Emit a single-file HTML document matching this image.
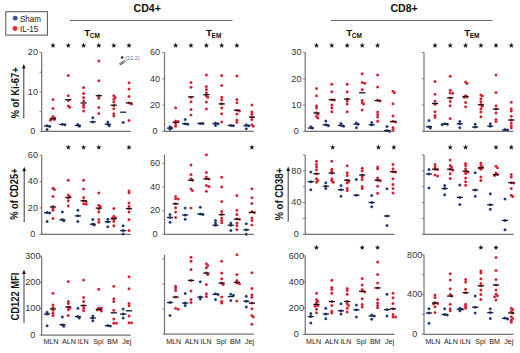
<!DOCTYPE html>
<html><head><meta charset="utf-8"><style>
html,body{margin:0;padding:0;background:#fff;}
svg{display:block;font-family:"Liberation Sans", sans-serif;}
</style></head><body>
<svg width="520" height="353" viewBox="0 0 520 353">
<defs>
<radialGradient id="gr"><stop offset="0" stop-color="#a8182a"/><stop offset="0.5" stop-color="#d41f2e"/><stop offset="1" stop-color="#ee3a46"/></radialGradient>
<radialGradient id="gb"><stop offset="0" stop-color="#13224a"/><stop offset="0.5" stop-color="#233c74"/><stop offset="1" stop-color="#3d5c9c"/></radialGradient>
</defs>
<rect width="520" height="353" fill="#fff"/>
<text x="147.2" y="12.3" font-size="10.6" text-anchor="middle" font-weight="bold" fill="#111" >CD4+</text>
<text x="404.1" y="12.3" font-size="10.6" text-anchor="middle" font-weight="bold" fill="#111" >CD8+</text>
<line x1="70" y1="20.5" x2="232.5" y2="20.5" stroke="#6a6a6a" stroke-width="1.2"/>
<line x1="331" y1="20.5" x2="492.6" y2="20.5" stroke="#6a6a6a" stroke-width="1.2"/>
<text x="84.2" y="35.5" font-size="9.9" font-weight="bold" fill="#111">T<tspan font-size="6.5" dx="-0.5" dy="2.4">CM</tspan></text>
<text x="206" y="35.5" font-size="9.9" font-weight="bold" fill="#111">T<tspan font-size="6.5" dx="-0.5" dy="2.4">EM</tspan></text>
<text x="346.2" y="35.5" font-size="9.9" font-weight="bold" fill="#111">T<tspan font-size="6.5" dx="-0.5" dy="2.4">CM</tspan></text>
<text x="464.2" y="35.5" font-size="9.9" font-weight="bold" fill="#111">T<tspan font-size="6.5" dx="-0.5" dy="2.4">EM</tspan></text>
<rect x="5.8" y="11.7" width="41.6" height="23.4" fill="none" stroke="#5a5a5a" stroke-width="1.05"/>
<circle cx="15.2" cy="18.2" r="2.4" fill="#3552a4"/>
<circle cx="15.0" cy="28.5" r="2.4" fill="#e3282e"/>
<text x="20" y="21.9" font-size="8.6" text-anchor="start" font-weight="normal" fill="#222" textLength="21" lengthAdjust="spacingAndGlyphs">Sham</text>
<text x="20" y="31.9" font-size="8.6" text-anchor="start" font-weight="normal" fill="#222" textLength="18.2" lengthAdjust="spacingAndGlyphs">IL-15</text>
<line x1="41.7" y1="52.5" x2="41.7" y2="131.4" stroke="#727272" stroke-width="1.2"/>
<line x1="41.1" y1="131.4" x2="130.8" y2="131.4" stroke="#727272" stroke-width="1.25"/>
<line x1="39.5" y1="131.4" x2="41.7" y2="131.4" stroke="#727272" stroke-width="0.9"/>
<text x="32.9" y="134.1" font-size="9.1" text-anchor="middle" font-weight="normal" fill="#333" >0</text>
<line x1="39.5" y1="111.67500000000001" x2="41.7" y2="111.67500000000001" stroke="#727272" stroke-width="0.9"/>
<line x1="39.5" y1="91.95" x2="41.7" y2="91.95" stroke="#727272" stroke-width="0.9"/>
<text x="32.9" y="94.65" font-size="9.1" text-anchor="middle" font-weight="normal" fill="#333" >10</text>
<line x1="39.5" y1="72.225" x2="41.7" y2="72.225" stroke="#727272" stroke-width="0.9"/>
<line x1="39.5" y1="52.5" x2="41.7" y2="52.5" stroke="#727272" stroke-width="0.9"/>
<text x="32.9" y="55.2" font-size="9.1" text-anchor="middle" font-weight="normal" fill="#333" >20</text>
<line x1="164.5" y1="52.5" x2="164.5" y2="131.4" stroke="#727272" stroke-width="1.2"/>
<line x1="163.9" y1="131.4" x2="253.8" y2="131.4" stroke="#727272" stroke-width="1.25"/>
<line x1="162.3" y1="131.4" x2="164.5" y2="131.4" stroke="#727272" stroke-width="0.9"/>
<text x="155.1" y="134.1" font-size="9.1" text-anchor="middle" font-weight="normal" fill="#333" >0</text>
<line x1="162.3" y1="105.10000000000001" x2="164.5" y2="105.10000000000001" stroke="#727272" stroke-width="0.9"/>
<text x="155.1" y="107.80000000000001" font-size="9.1" text-anchor="middle" font-weight="normal" fill="#333" >20</text>
<line x1="162.3" y1="78.80000000000001" x2="164.5" y2="78.80000000000001" stroke="#727272" stroke-width="0.9"/>
<text x="155.1" y="81.50000000000001" font-size="9.1" text-anchor="middle" font-weight="normal" fill="#333" >40</text>
<line x1="162.3" y1="52.5" x2="164.5" y2="52.5" stroke="#727272" stroke-width="0.9"/>
<text x="155.1" y="55.2" font-size="9.1" text-anchor="middle" font-weight="normal" fill="#333" >60</text>
<line x1="305.2" y1="52.5" x2="305.2" y2="131.4" stroke="#727272" stroke-width="1.2"/>
<line x1="304.59999999999997" y1="131.4" x2="394.6" y2="131.4" stroke="#727272" stroke-width="1.25"/>
<line x1="303.0" y1="131.4" x2="305.2" y2="131.4" stroke="#727272" stroke-width="0.9"/>
<text x="296.4" y="134.1" font-size="9.1" text-anchor="middle" font-weight="normal" fill="#333" >0</text>
<line x1="303.0" y1="105.10000000000001" x2="305.2" y2="105.10000000000001" stroke="#727272" stroke-width="0.9"/>
<text x="296.4" y="107.80000000000001" font-size="9.1" text-anchor="middle" font-weight="normal" fill="#333" >10</text>
<line x1="303.0" y1="78.80000000000001" x2="305.2" y2="78.80000000000001" stroke="#727272" stroke-width="0.9"/>
<text x="296.4" y="81.50000000000001" font-size="9.1" text-anchor="middle" font-weight="normal" fill="#333" >20</text>
<line x1="303.0" y1="52.5" x2="305.2" y2="52.5" stroke="#727272" stroke-width="0.9"/>
<text x="296.4" y="55.2" font-size="9.1" text-anchor="middle" font-weight="normal" fill="#333" >30</text>
<line x1="424.0" y1="52.5" x2="424.0" y2="131.4" stroke="#727272" stroke-width="1.2"/>
<line x1="423.4" y1="131.4" x2="513.5" y2="131.4" stroke="#727272" stroke-width="1.25"/>
<line x1="421.8" y1="131.4" x2="424.0" y2="131.4" stroke="#727272" stroke-width="0.9"/>
<line x1="421.8" y1="105.10000000000001" x2="424.0" y2="105.10000000000001" stroke="#727272" stroke-width="0.9"/>
<line x1="421.8" y1="78.80000000000001" x2="424.0" y2="78.80000000000001" stroke="#727272" stroke-width="0.9"/>
<line x1="421.8" y1="52.5" x2="424.0" y2="52.5" stroke="#727272" stroke-width="0.9"/>
<line x1="41.7" y1="155.2" x2="41.7" y2="234.3" stroke="#727272" stroke-width="1.2"/>
<line x1="41.1" y1="234.3" x2="130.8" y2="234.3" stroke="#727272" stroke-width="1.25"/>
<line x1="39.5" y1="234.3" x2="41.7" y2="234.3" stroke="#727272" stroke-width="0.9"/>
<text x="32.9" y="237.0" font-size="9.1" text-anchor="middle" font-weight="normal" fill="#333" >0</text>
<line x1="39.5" y1="207.93333333333334" x2="41.7" y2="207.93333333333334" stroke="#727272" stroke-width="0.9"/>
<text x="32.9" y="210.63333333333333" font-size="9.1" text-anchor="middle" font-weight="normal" fill="#333" >20</text>
<line x1="39.5" y1="181.56666666666666" x2="41.7" y2="181.56666666666666" stroke="#727272" stroke-width="0.9"/>
<text x="32.9" y="184.26666666666665" font-size="9.1" text-anchor="middle" font-weight="normal" fill="#333" >40</text>
<line x1="39.5" y1="155.2" x2="41.7" y2="155.2" stroke="#727272" stroke-width="0.9"/>
<text x="32.9" y="157.89999999999998" font-size="9.1" text-anchor="middle" font-weight="normal" fill="#333" >60</text>
<line x1="164.5" y1="154.5" x2="164.5" y2="234.3" stroke="#727272" stroke-width="1.2"/>
<line x1="163.9" y1="234.3" x2="253.8" y2="234.3" stroke="#727272" stroke-width="1.25"/>
<line x1="162.3" y1="234.3" x2="164.5" y2="234.3" stroke="#727272" stroke-width="0.9"/>
<text x="155.1" y="237.0" font-size="9.1" text-anchor="middle" font-weight="normal" fill="#333" >0</text>
<line x1="162.3" y1="210.66666666666669" x2="164.5" y2="210.66666666666669" stroke="#727272" stroke-width="0.9"/>
<text x="155.1" y="213.36666666666667" font-size="9.1" text-anchor="middle" font-weight="normal" fill="#333" >20</text>
<line x1="162.3" y1="187.03333333333333" x2="164.5" y2="187.03333333333333" stroke="#727272" stroke-width="0.9"/>
<text x="155.1" y="189.73333333333332" font-size="9.1" text-anchor="middle" font-weight="normal" fill="#333" >40</text>
<line x1="162.3" y1="163.4" x2="164.5" y2="163.4" stroke="#727272" stroke-width="0.9"/>
<text x="155.1" y="166.1" font-size="9.1" text-anchor="middle" font-weight="normal" fill="#333" >60</text>
<line x1="305.2" y1="155.0" x2="305.2" y2="234.3" stroke="#727272" stroke-width="1.2"/>
<line x1="304.59999999999997" y1="234.3" x2="394.6" y2="234.3" stroke="#727272" stroke-width="1.25"/>
<line x1="303.0" y1="234.3" x2="305.2" y2="234.3" stroke="#727272" stroke-width="0.9"/>
<text x="296.4" y="237.0" font-size="9.1" text-anchor="middle" font-weight="normal" fill="#333" >0</text>
<line x1="303.0" y1="218.44" x2="305.2" y2="218.44" stroke="#727272" stroke-width="0.9"/>
<line x1="303.0" y1="202.58" x2="305.2" y2="202.58" stroke="#727272" stroke-width="0.9"/>
<text x="296.4" y="205.28" font-size="9.1" text-anchor="middle" font-weight="normal" fill="#333" >40</text>
<line x1="303.0" y1="186.72" x2="305.2" y2="186.72" stroke="#727272" stroke-width="0.9"/>
<line x1="303.0" y1="170.86" x2="305.2" y2="170.86" stroke="#727272" stroke-width="0.9"/>
<text x="296.4" y="173.56" font-size="9.1" text-anchor="middle" font-weight="normal" fill="#333" >80</text>
<line x1="303.0" y1="155.0" x2="305.2" y2="155.0" stroke="#727272" stroke-width="0.9"/>
<line x1="424.0" y1="155.0" x2="424.0" y2="234.3" stroke="#727272" stroke-width="1.2"/>
<line x1="423.4" y1="234.3" x2="513.5" y2="234.3" stroke="#727272" stroke-width="1.25"/>
<line x1="421.8" y1="234.3" x2="424.0" y2="234.3" stroke="#727272" stroke-width="0.9"/>
<line x1="421.8" y1="218.44" x2="424.0" y2="218.44" stroke="#727272" stroke-width="0.9"/>
<line x1="421.8" y1="202.58" x2="424.0" y2="202.58" stroke="#727272" stroke-width="0.9"/>
<line x1="421.8" y1="186.72" x2="424.0" y2="186.72" stroke="#727272" stroke-width="0.9"/>
<line x1="421.8" y1="170.86" x2="424.0" y2="170.86" stroke="#727272" stroke-width="0.9"/>
<line x1="421.8" y1="155.0" x2="424.0" y2="155.0" stroke="#727272" stroke-width="0.9"/>
<line x1="41.7" y1="256.2" x2="41.7" y2="335.0" stroke="#727272" stroke-width="1.2"/>
<line x1="41.1" y1="335.0" x2="130.8" y2="335.0" stroke="#727272" stroke-width="1.25"/>
<line x1="39.5" y1="335.0" x2="41.7" y2="335.0" stroke="#727272" stroke-width="0.9"/>
<text x="32.9" y="337.7" font-size="9.1" text-anchor="middle" font-weight="normal" fill="#333" >0</text>
<line x1="39.5" y1="308.73333333333335" x2="41.7" y2="308.73333333333335" stroke="#727272" stroke-width="0.9"/>
<text x="32.9" y="311.43333333333334" font-size="9.1" text-anchor="middle" font-weight="normal" fill="#333" >100</text>
<line x1="39.5" y1="282.46666666666664" x2="41.7" y2="282.46666666666664" stroke="#727272" stroke-width="0.9"/>
<text x="32.9" y="285.16666666666663" font-size="9.1" text-anchor="middle" font-weight="normal" fill="#333" >200</text>
<line x1="39.5" y1="256.2" x2="41.7" y2="256.2" stroke="#727272" stroke-width="0.9"/>
<text x="32.9" y="258.9" font-size="9.1" text-anchor="middle" font-weight="normal" fill="#333" >300</text>
<line x1="164.5" y1="254.8" x2="164.5" y2="334.0" stroke="#727272" stroke-width="1.2"/>
<line x1="163.9" y1="334.0" x2="253.8" y2="334.0" stroke="#727272" stroke-width="1.25"/>
<line x1="162.3" y1="334.0" x2="164.5" y2="334.0" stroke="#727272" stroke-width="0.9"/>
<line x1="162.3" y1="308.93333333333334" x2="164.5" y2="308.93333333333334" stroke="#727272" stroke-width="0.9"/>
<line x1="162.3" y1="283.8666666666667" x2="164.5" y2="283.8666666666667" stroke="#727272" stroke-width="0.9"/>
<line x1="162.3" y1="258.8" x2="164.5" y2="258.8" stroke="#727272" stroke-width="0.9"/>
<line x1="305.2" y1="255.8" x2="305.2" y2="334.4" stroke="#727272" stroke-width="1.2"/>
<line x1="304.59999999999997" y1="334.4" x2="394.6" y2="334.4" stroke="#727272" stroke-width="1.25"/>
<line x1="303.0" y1="334.4" x2="305.2" y2="334.4" stroke="#727272" stroke-width="0.9"/>
<text x="296.4" y="337.09999999999997" font-size="9.1" text-anchor="middle" font-weight="normal" fill="#333" >0</text>
<line x1="303.0" y1="308.2" x2="305.2" y2="308.2" stroke="#727272" stroke-width="0.9"/>
<text x="296.4" y="310.9" font-size="9.1" text-anchor="middle" font-weight="normal" fill="#333" >200</text>
<line x1="303.0" y1="282.0" x2="305.2" y2="282.0" stroke="#727272" stroke-width="0.9"/>
<text x="296.4" y="284.7" font-size="9.1" text-anchor="middle" font-weight="normal" fill="#333" >400</text>
<line x1="303.0" y1="255.8" x2="305.2" y2="255.8" stroke="#727272" stroke-width="0.9"/>
<text x="296.4" y="258.5" font-size="9.1" text-anchor="middle" font-weight="normal" fill="#333" >600</text>
<line x1="424.0" y1="254.8" x2="424.0" y2="334.3" stroke="#727272" stroke-width="1.2"/>
<line x1="423.4" y1="334.3" x2="513.5" y2="334.3" stroke="#727272" stroke-width="1.25"/>
<line x1="421.8" y1="334.3" x2="424.0" y2="334.3" stroke="#727272" stroke-width="0.9"/>
<text x="414.7" y="337.0" font-size="9.1" text-anchor="middle" font-weight="normal" fill="#333" >0</text>
<line x1="421.8" y1="314.425" x2="424.0" y2="314.425" stroke="#727272" stroke-width="0.9"/>
<line x1="421.8" y1="294.55" x2="424.0" y2="294.55" stroke="#727272" stroke-width="0.9"/>
<text x="414.7" y="297.25" font-size="9.1" text-anchor="middle" font-weight="normal" fill="#333" >400</text>
<line x1="421.8" y1="274.675" x2="424.0" y2="274.675" stroke="#727272" stroke-width="0.9"/>
<line x1="421.8" y1="254.8" x2="424.0" y2="254.8" stroke="#727272" stroke-width="0.9"/>
<text x="414.7" y="257.5" font-size="9.1" text-anchor="middle" font-weight="normal" fill="#333" >800</text>
<text transform="translate(18.6,118.5) rotate(-90)" font-size="10.0" font-weight="bold" fill="#111" textLength="51.4" lengthAdjust="spacingAndGlyphs">% of Ki-67+</text>
<line x1="23.8" y1="67.5" x2="23.8" y2="118.5" stroke="#222" stroke-width="0.9"/>
<polygon points="23.8,64.0 22.0,68.5 25.6,68.5" fill="#111"/>
<text transform="translate(18.2,219.8) rotate(-90)" font-size="10.0" font-weight="bold" fill="#111" textLength="51.4" lengthAdjust="spacingAndGlyphs">% of CD25+</text>
<line x1="24.2" y1="170.3" x2="24.2" y2="222.2" stroke="#222" stroke-width="0.9"/>
<polygon points="24.2,166.8 22.4,171.3 26.0,171.3" fill="#111"/>
<text transform="translate(283.0,220.6) rotate(-90)" font-size="10.0" font-weight="bold" fill="#111" textLength="52.8" lengthAdjust="spacingAndGlyphs">% of CD38+</text>
<line x1="288.2" y1="170.0" x2="288.2" y2="221.8" stroke="#222" stroke-width="0.9"/>
<polygon points="288.2,166.5 286.4,171.0 290.0,171.0" fill="#111"/>
<text transform="translate(18.5,320.6) rotate(-90)" font-size="10.0" font-weight="bold" fill="#111" textLength="48.0" lengthAdjust="spacingAndGlyphs">CD122 MFI</text>
<line x1="24.0" y1="272.9" x2="24.0" y2="323.3" stroke="#222" stroke-width="0.9"/>
<polygon points="24.0,269.4 22.2,273.9 25.8,273.9" fill="#111"/>
<text x="50.9" y="344.3" font-size="7.1" text-anchor="middle" font-weight="normal" fill="#222" >MLN</text>
<text x="68.95" y="344.3" font-size="7.1" text-anchor="middle" font-weight="normal" fill="#222" >ALN</text>
<text x="83.2" y="344.3" font-size="7.1" text-anchor="middle" font-weight="normal" fill="#222" >ILN</text>
<text x="98.4" y="344.3" font-size="7.1" text-anchor="middle" font-weight="normal" fill="#222" >Spl</text>
<text x="112.5" y="344.3" font-size="7.1" text-anchor="middle" font-weight="normal" fill="#222" >BM</text>
<text x="126.75" y="344.3" font-size="7.1" text-anchor="middle" font-weight="normal" fill="#222" >Jej</text>
<text x="173.7" y="344.3" font-size="7.1" text-anchor="middle" font-weight="normal" fill="#222" >MLN</text>
<text x="191.75" y="344.3" font-size="7.1" text-anchor="middle" font-weight="normal" fill="#222" >ALN</text>
<text x="206.0" y="344.3" font-size="7.1" text-anchor="middle" font-weight="normal" fill="#222" >ILN</text>
<text x="221.2" y="344.3" font-size="7.1" text-anchor="middle" font-weight="normal" fill="#222" >Spl</text>
<text x="235.3" y="344.3" font-size="7.1" text-anchor="middle" font-weight="normal" fill="#222" >BM</text>
<text x="249.55" y="344.3" font-size="7.1" text-anchor="middle" font-weight="normal" fill="#222" >Jej</text>
<text x="313.6" y="344.3" font-size="7.1" text-anchor="middle" font-weight="normal" fill="#222" >MLN</text>
<text x="331.65" y="344.3" font-size="7.1" text-anchor="middle" font-weight="normal" fill="#222" >ALN</text>
<text x="345.9" y="344.3" font-size="7.1" text-anchor="middle" font-weight="normal" fill="#222" >ILN</text>
<text x="361.1" y="344.3" font-size="7.1" text-anchor="middle" font-weight="normal" fill="#222" >Spl</text>
<text x="375.2" y="344.3" font-size="7.1" text-anchor="middle" font-weight="normal" fill="#222" >BM</text>
<text x="389.45" y="344.3" font-size="7.1" text-anchor="middle" font-weight="normal" fill="#222" >Jej</text>
<text x="432.9" y="344.3" font-size="7.1" text-anchor="middle" font-weight="normal" fill="#222" >MLN</text>
<text x="450.95" y="344.3" font-size="7.1" text-anchor="middle" font-weight="normal" fill="#222" >ALN</text>
<text x="465.2" y="344.3" font-size="7.1" text-anchor="middle" font-weight="normal" fill="#222" >ILN</text>
<text x="480.4" y="344.3" font-size="7.1" text-anchor="middle" font-weight="normal" fill="#222" >Spl</text>
<text x="494.5" y="344.3" font-size="7.1" text-anchor="middle" font-weight="normal" fill="#222" >BM</text>
<text x="508.75" y="344.3" font-size="7.1" text-anchor="middle" font-weight="normal" fill="#222" >Jej</text>
<circle cx="47.10" cy="125.80" r="1.5" fill="url(#gb)"/>
<circle cx="49.70" cy="126.60" r="1.5" fill="url(#gb)"/>
<circle cx="47.10" cy="129.40" r="1.5" fill="url(#gb)"/>
<circle cx="53.00" cy="99.50" r="1.5" fill="url(#gr)"/>
<circle cx="53.00" cy="108.40" r="1.5" fill="url(#gr)"/>
<circle cx="53.00" cy="116.60" r="1.5" fill="url(#gr)"/>
<circle cx="54.40" cy="117.80" r="1.5" fill="url(#gr)"/>
<circle cx="51.60" cy="118.60" r="1.5" fill="url(#gr)"/>
<circle cx="54.40" cy="119.60" r="1.5" fill="url(#gr)"/>
<circle cx="50.40" cy="120.20" r="1.5" fill="url(#gr)"/>
<line x1="44.00" y1="126.0" x2="50.20" y2="126.0" stroke="#15204a" stroke-width="1.3"/>
<line x1="49.90" y1="118.7" x2="56.10" y2="118.7" stroke="#111" stroke-width="1.3"/>
<circle cx="62.40" cy="124.20" r="1.5" fill="url(#gb)"/>
<circle cx="65.00" cy="124.80" r="1.5" fill="url(#gb)"/>
<circle cx="68.30" cy="75.40" r="1.5" fill="url(#gr)"/>
<circle cx="68.30" cy="95.70" r="1.5" fill="url(#gr)"/>
<circle cx="68.30" cy="100.50" r="1.5" fill="url(#gr)"/>
<circle cx="68.30" cy="105.90" r="1.5" fill="url(#gr)"/>
<circle cx="69.70" cy="107.30" r="1.5" fill="url(#gr)"/>
<line x1="59.30" y1="124.5" x2="65.50" y2="124.5" stroke="#15204a" stroke-width="1.3"/>
<line x1="65.20" y1="99.7" x2="71.40" y2="99.7" stroke="#111" stroke-width="1.3"/>
<circle cx="77.90" cy="124.60" r="1.5" fill="url(#gb)"/>
<circle cx="79.30" cy="126.20" r="1.5" fill="url(#gb)"/>
<circle cx="83.60" cy="87.60" r="1.5" fill="url(#gr)"/>
<circle cx="83.60" cy="93.40" r="1.5" fill="url(#gr)"/>
<circle cx="83.60" cy="97.60" r="1.5" fill="url(#gr)"/>
<circle cx="83.60" cy="101.00" r="1.5" fill="url(#gr)"/>
<circle cx="83.60" cy="104.90" r="1.5" fill="url(#gr)"/>
<circle cx="83.60" cy="107.20" r="1.5" fill="url(#gr)"/>
<circle cx="83.60" cy="111.10" r="1.5" fill="url(#gr)"/>
<line x1="74.80" y1="125.5" x2="81.00" y2="125.5" stroke="#15204a" stroke-width="1.3"/>
<line x1="80.50" y1="103.0" x2="86.70" y2="103.0" stroke="#111" stroke-width="1.3"/>
<circle cx="92.80" cy="117.70" r="1.5" fill="url(#gb)"/>
<circle cx="92.80" cy="121.90" r="1.5" fill="url(#gb)"/>
<circle cx="98.80" cy="61.00" r="1.5" fill="url(#gr)"/>
<circle cx="98.80" cy="80.80" r="1.5" fill="url(#gr)"/>
<circle cx="98.80" cy="95.70" r="1.5" fill="url(#gr)"/>
<circle cx="98.80" cy="98.20" r="1.5" fill="url(#gr)"/>
<circle cx="98.80" cy="107.40" r="1.5" fill="url(#gr)"/>
<circle cx="98.80" cy="113.60" r="1.5" fill="url(#gr)"/>
<line x1="89.70" y1="121.9" x2="95.90" y2="121.9" stroke="#15204a" stroke-width="1.3"/>
<line x1="95.70" y1="95.7" x2="101.90" y2="95.7" stroke="#111" stroke-width="1.3"/>
<circle cx="107.80" cy="121.90" r="1.5" fill="url(#gb)"/>
<circle cx="107.80" cy="124.20" r="1.5" fill="url(#gb)"/>
<circle cx="109.20" cy="125.80" r="1.5" fill="url(#gb)"/>
<circle cx="113.80" cy="95.70" r="1.5" fill="url(#gr)"/>
<circle cx="115.20" cy="97.40" r="1.5" fill="url(#gr)"/>
<circle cx="113.80" cy="99.20" r="1.5" fill="url(#gr)"/>
<circle cx="113.80" cy="102.00" r="1.5" fill="url(#gr)"/>
<circle cx="113.80" cy="105.50" r="1.5" fill="url(#gr)"/>
<circle cx="113.80" cy="108.80" r="1.5" fill="url(#gr)"/>
<circle cx="113.80" cy="113.70" r="1.5" fill="url(#gr)"/>
<circle cx="113.80" cy="116.00" r="1.5" fill="url(#gr)"/>
<line x1="104.70" y1="124.2" x2="110.90" y2="124.2" stroke="#15204a" stroke-width="1.3"/>
<line x1="110.70" y1="105.2" x2="116.90" y2="105.2" stroke="#111" stroke-width="1.3"/>
<circle cx="123.20" cy="122.50" r="1.5" fill="url(#gb)"/>
<circle cx="129.00" cy="82.80" r="1.5" fill="url(#gr)"/>
<circle cx="129.00" cy="89.10" r="1.5" fill="url(#gr)"/>
<circle cx="129.00" cy="96.50" r="1.5" fill="url(#gr)"/>
<circle cx="129.00" cy="103.00" r="1.5" fill="url(#gr)"/>
<circle cx="131.60" cy="104.00" r="1.5" fill="url(#gr)"/>
<circle cx="129.00" cy="120.40" r="1.5" fill="url(#gr)"/>
<line x1="120.10" y1="112.2" x2="126.30" y2="112.2" stroke="#15204a" stroke-width="1.3"/>
<line x1="125.90" y1="102.9" x2="132.10" y2="102.9" stroke="#111" stroke-width="1.3"/>
<polygon points="53.00,42.70 53.68,44.57 55.66,44.63 54.09,45.86 54.65,47.77 53.00,46.65 51.35,47.77 51.91,45.86 50.34,44.63 52.32,44.57" fill="#111"/>
<polygon points="68.30,42.70 68.98,44.57 70.96,44.63 69.39,45.86 69.95,47.77 68.30,46.65 66.65,47.77 67.21,45.86 65.64,44.63 67.62,44.57" fill="#111"/>
<polygon points="83.60,42.70 84.28,44.57 86.26,44.63 84.69,45.86 85.25,47.77 83.60,46.65 81.95,47.77 82.51,45.86 80.94,44.63 82.92,44.57" fill="#111"/>
<polygon points="98.80,42.70 99.48,44.57 101.46,44.63 99.89,45.86 100.45,47.77 98.80,46.65 97.15,47.77 97.71,45.86 96.14,44.63 98.12,44.57" fill="#111"/>
<polygon points="113.80,42.70 114.48,44.57 116.46,44.63 114.89,45.86 115.45,47.77 113.80,46.65 112.15,47.77 112.71,45.86 111.14,44.63 113.12,44.57" fill="#111"/>
<polygon points="129.00,42.70 129.68,44.57 131.66,44.63 130.09,45.86 130.65,47.77 129.00,46.65 127.35,47.77 127.91,45.86 126.34,44.63 128.32,44.57" fill="#111"/>
<circle cx="170.00" cy="126.70" r="1.5" fill="url(#gb)"/>
<circle cx="171.40" cy="128.10" r="1.5" fill="url(#gb)"/>
<circle cx="170.00" cy="129.20" r="1.5" fill="url(#gb)"/>
<circle cx="175.60" cy="107.80" r="1.5" fill="url(#gr)"/>
<circle cx="175.60" cy="121.00" r="1.5" fill="url(#gr)"/>
<circle cx="178.20" cy="121.50" r="1.5" fill="url(#gr)"/>
<circle cx="175.60" cy="123.80" r="1.5" fill="url(#gr)"/>
<circle cx="175.60" cy="126.20" r="1.5" fill="url(#gr)"/>
<line x1="166.90" y1="128.1" x2="173.10" y2="128.1" stroke="#15204a" stroke-width="1.3"/>
<line x1="172.50" y1="122.3" x2="178.70" y2="122.3" stroke="#111" stroke-width="1.3"/>
<circle cx="185.20" cy="119.60" r="1.5" fill="url(#gb)"/>
<circle cx="185.20" cy="123.80" r="1.5" fill="url(#gb)"/>
<circle cx="187.80" cy="124.20" r="1.5" fill="url(#gb)"/>
<circle cx="191.00" cy="82.40" r="1.5" fill="url(#gr)"/>
<circle cx="191.00" cy="87.20" r="1.5" fill="url(#gr)"/>
<circle cx="191.00" cy="97.30" r="1.5" fill="url(#gr)"/>
<circle cx="191.00" cy="101.70" r="1.5" fill="url(#gr)"/>
<circle cx="191.00" cy="109.60" r="1.5" fill="url(#gr)"/>
<circle cx="191.00" cy="115.00" r="1.5" fill="url(#gr)"/>
<line x1="182.10" y1="123.8" x2="188.30" y2="123.8" stroke="#15204a" stroke-width="1.3"/>
<line x1="187.90" y1="96.9" x2="194.10" y2="96.9" stroke="#111" stroke-width="1.3"/>
<circle cx="200.30" cy="123.50" r="1.5" fill="url(#gb)"/>
<circle cx="202.90" cy="123.50" r="1.5" fill="url(#gb)"/>
<circle cx="206.40" cy="75.00" r="1.5" fill="url(#gr)"/>
<circle cx="206.40" cy="86.60" r="1.5" fill="url(#gr)"/>
<circle cx="206.40" cy="89.50" r="1.5" fill="url(#gr)"/>
<circle cx="206.40" cy="92.80" r="1.5" fill="url(#gr)"/>
<circle cx="206.40" cy="96.00" r="1.5" fill="url(#gr)"/>
<circle cx="207.80" cy="97.20" r="1.5" fill="url(#gr)"/>
<circle cx="206.40" cy="101.90" r="1.5" fill="url(#gr)"/>
<circle cx="206.40" cy="108.90" r="1.5" fill="url(#gr)"/>
<line x1="197.20" y1="123.5" x2="203.40" y2="123.5" stroke="#15204a" stroke-width="1.3"/>
<line x1="203.30" y1="94.7" x2="209.50" y2="94.7" stroke="#111" stroke-width="1.3"/>
<circle cx="215.50" cy="122.90" r="1.5" fill="url(#gb)"/>
<circle cx="218.10" cy="123.80" r="1.5" fill="url(#gb)"/>
<circle cx="215.50" cy="125.40" r="1.5" fill="url(#gb)"/>
<circle cx="221.70" cy="75.60" r="1.5" fill="url(#gr)"/>
<circle cx="221.70" cy="85.60" r="1.5" fill="url(#gr)"/>
<circle cx="221.70" cy="97.20" r="1.5" fill="url(#gr)"/>
<circle cx="221.70" cy="99.70" r="1.5" fill="url(#gr)"/>
<circle cx="221.70" cy="103.70" r="1.5" fill="url(#gr)"/>
<circle cx="221.70" cy="108.10" r="1.5" fill="url(#gr)"/>
<circle cx="221.70" cy="113.70" r="1.5" fill="url(#gr)"/>
<circle cx="221.70" cy="121.90" r="1.5" fill="url(#gr)"/>
<line x1="212.40" y1="123.8" x2="218.60" y2="123.8" stroke="#15204a" stroke-width="1.3"/>
<line x1="218.60" y1="103.9" x2="224.80" y2="103.9" stroke="#111" stroke-width="1.3"/>
<circle cx="230.80" cy="125.40" r="1.5" fill="url(#gb)"/>
<circle cx="233.40" cy="125.80" r="1.5" fill="url(#gb)"/>
<circle cx="236.90" cy="76.00" r="1.5" fill="url(#gr)"/>
<circle cx="236.90" cy="99.50" r="1.5" fill="url(#gr)"/>
<circle cx="236.90" cy="102.80" r="1.5" fill="url(#gr)"/>
<circle cx="236.90" cy="110.30" r="1.5" fill="url(#gr)"/>
<circle cx="239.50" cy="111.00" r="1.5" fill="url(#gr)"/>
<circle cx="236.90" cy="113.90" r="1.5" fill="url(#gr)"/>
<circle cx="236.90" cy="120.00" r="1.5" fill="url(#gr)"/>
<circle cx="236.90" cy="122.30" r="1.5" fill="url(#gr)"/>
<line x1="227.70" y1="125.4" x2="233.90" y2="125.4" stroke="#15204a" stroke-width="1.3"/>
<line x1="233.80" y1="110.3" x2="240.00" y2="110.3" stroke="#111" stroke-width="1.3"/>
<circle cx="246.30" cy="124.80" r="1.5" fill="url(#gb)"/>
<circle cx="248.90" cy="125.80" r="1.5" fill="url(#gb)"/>
<circle cx="246.30" cy="128.70" r="1.5" fill="url(#gb)"/>
<circle cx="251.90" cy="105.10" r="1.5" fill="url(#gr)"/>
<circle cx="251.90" cy="111.90" r="1.5" fill="url(#gr)"/>
<circle cx="251.90" cy="114.20" r="1.5" fill="url(#gr)"/>
<circle cx="251.90" cy="117.10" r="1.5" fill="url(#gr)"/>
<circle cx="251.90" cy="119.60" r="1.5" fill="url(#gr)"/>
<circle cx="251.90" cy="124.80" r="1.5" fill="url(#gr)"/>
<circle cx="253.30" cy="126.20" r="1.5" fill="url(#gr)"/>
<line x1="243.20" y1="125.8" x2="249.40" y2="125.8" stroke="#15204a" stroke-width="1.3"/>
<line x1="248.80" y1="117.1" x2="255.00" y2="117.1" stroke="#111" stroke-width="1.3"/>
<polygon points="175.60,42.70 176.28,44.57 178.26,44.63 176.69,45.86 177.25,47.77 175.60,46.65 173.95,47.77 174.51,45.86 172.94,44.63 174.92,44.57" fill="#111"/>
<polygon points="191.00,42.70 191.68,44.57 193.66,44.63 192.09,45.86 192.65,47.77 191.00,46.65 189.35,47.77 189.91,45.86 188.34,44.63 190.32,44.57" fill="#111"/>
<polygon points="206.40,42.70 207.08,44.57 209.06,44.63 207.49,45.86 208.05,47.77 206.40,46.65 204.75,47.77 205.31,45.86 203.74,44.63 205.72,44.57" fill="#111"/>
<polygon points="221.70,42.70 222.38,44.57 224.36,44.63 222.79,45.86 223.35,47.77 221.70,46.65 220.05,47.77 220.61,45.86 219.04,44.63 221.02,44.57" fill="#111"/>
<polygon points="236.90,42.70 237.58,44.57 239.56,44.63 237.99,45.86 238.55,47.77 236.90,46.65 235.25,47.77 235.81,45.86 234.24,44.63 236.22,44.57" fill="#111"/>
<circle cx="310.80" cy="126.70" r="1.5" fill="url(#gb)"/>
<circle cx="312.20" cy="128.10" r="1.5" fill="url(#gb)"/>
<circle cx="316.50" cy="88.50" r="1.5" fill="url(#gr)"/>
<circle cx="316.50" cy="95.70" r="1.5" fill="url(#gr)"/>
<circle cx="316.50" cy="105.80" r="1.5" fill="url(#gr)"/>
<circle cx="316.50" cy="107.90" r="1.5" fill="url(#gr)"/>
<circle cx="316.50" cy="112.80" r="1.5" fill="url(#gr)"/>
<circle cx="317.90" cy="114.30" r="1.5" fill="url(#gr)"/>
<circle cx="316.50" cy="116.50" r="1.5" fill="url(#gr)"/>
<circle cx="317.90" cy="118.10" r="1.5" fill="url(#gr)"/>
<line x1="307.70" y1="128.1" x2="313.90" y2="128.1" stroke="#15204a" stroke-width="1.3"/>
<line x1="313.40" y1="113.0" x2="319.60" y2="113.0" stroke="#111" stroke-width="1.3"/>
<circle cx="325.80" cy="121.00" r="1.5" fill="url(#gb)"/>
<circle cx="325.80" cy="124.80" r="1.5" fill="url(#gb)"/>
<circle cx="328.40" cy="125.80" r="1.5" fill="url(#gb)"/>
<circle cx="331.80" cy="84.30" r="1.5" fill="url(#gr)"/>
<circle cx="331.80" cy="91.80" r="1.5" fill="url(#gr)"/>
<circle cx="331.80" cy="99.70" r="1.5" fill="url(#gr)"/>
<circle cx="334.40" cy="99.90" r="1.5" fill="url(#gr)"/>
<circle cx="331.80" cy="104.90" r="1.5" fill="url(#gr)"/>
<circle cx="331.80" cy="107.80" r="1.5" fill="url(#gr)"/>
<circle cx="331.80" cy="111.70" r="1.5" fill="url(#gr)"/>
<line x1="322.70" y1="124.8" x2="328.90" y2="124.8" stroke="#15204a" stroke-width="1.3"/>
<line x1="328.70" y1="99.7" x2="334.90" y2="99.7" stroke="#111" stroke-width="1.3"/>
<circle cx="341.00" cy="123.50" r="1.5" fill="url(#gb)"/>
<circle cx="341.00" cy="125.40" r="1.5" fill="url(#gb)"/>
<circle cx="343.60" cy="126.20" r="1.5" fill="url(#gb)"/>
<circle cx="347.20" cy="84.30" r="1.5" fill="url(#gr)"/>
<circle cx="347.20" cy="91.80" r="1.5" fill="url(#gr)"/>
<circle cx="347.20" cy="99.10" r="1.5" fill="url(#gr)"/>
<circle cx="347.20" cy="101.00" r="1.5" fill="url(#gr)"/>
<circle cx="347.20" cy="104.00" r="1.5" fill="url(#gr)"/>
<circle cx="347.20" cy="111.70" r="1.5" fill="url(#gr)"/>
<line x1="337.90" y1="125.4" x2="344.10" y2="125.4" stroke="#15204a" stroke-width="1.3"/>
<line x1="344.10" y1="99.1" x2="350.30" y2="99.1" stroke="#111" stroke-width="1.3"/>
<circle cx="356.40" cy="122.90" r="1.5" fill="url(#gb)"/>
<circle cx="357.80" cy="124.20" r="1.5" fill="url(#gb)"/>
<circle cx="356.40" cy="127.70" r="1.5" fill="url(#gb)"/>
<circle cx="362.20" cy="73.70" r="1.5" fill="url(#gr)"/>
<circle cx="362.20" cy="82.40" r="1.5" fill="url(#gr)"/>
<circle cx="364.80" cy="83.30" r="1.5" fill="url(#gr)"/>
<circle cx="362.20" cy="89.50" r="1.5" fill="url(#gr)"/>
<circle cx="362.20" cy="100.50" r="1.5" fill="url(#gr)"/>
<circle cx="362.20" cy="102.70" r="1.5" fill="url(#gr)"/>
<circle cx="363.60" cy="104.00" r="1.5" fill="url(#gr)"/>
<circle cx="362.20" cy="110.10" r="1.5" fill="url(#gr)"/>
<line x1="353.30" y1="124.2" x2="359.50" y2="124.2" stroke="#15204a" stroke-width="1.3"/>
<line x1="359.10" y1="92.8" x2="365.30" y2="92.8" stroke="#111" stroke-width="1.3"/>
<circle cx="371.70" cy="122.50" r="1.5" fill="url(#gb)"/>
<circle cx="371.70" cy="124.80" r="1.5" fill="url(#gb)"/>
<circle cx="377.60" cy="75.00" r="1.5" fill="url(#gr)"/>
<circle cx="377.60" cy="87.00" r="1.5" fill="url(#gr)"/>
<circle cx="377.60" cy="100.20" r="1.5" fill="url(#gr)"/>
<circle cx="380.20" cy="101.00" r="1.5" fill="url(#gr)"/>
<circle cx="377.60" cy="111.90" r="1.5" fill="url(#gr)"/>
<circle cx="377.60" cy="114.60" r="1.5" fill="url(#gr)"/>
<circle cx="377.60" cy="117.10" r="1.5" fill="url(#gr)"/>
<circle cx="377.60" cy="121.30" r="1.5" fill="url(#gr)"/>
<line x1="368.60" y1="124.8" x2="374.80" y2="124.8" stroke="#15204a" stroke-width="1.3"/>
<line x1="374.50" y1="100.5" x2="380.70" y2="100.5" stroke="#111" stroke-width="1.3"/>
<circle cx="387.00" cy="126.40" r="1.5" fill="url(#gb)"/>
<circle cx="387.00" cy="130.60" r="1.5" fill="url(#gb)"/>
<circle cx="389.60" cy="131.20" r="1.5" fill="url(#gb)"/>
<circle cx="393.00" cy="91.20" r="1.5" fill="url(#gr)"/>
<circle cx="394.40" cy="92.80" r="1.5" fill="url(#gr)"/>
<circle cx="393.00" cy="103.70" r="1.5" fill="url(#gr)"/>
<circle cx="393.00" cy="116.10" r="1.5" fill="url(#gr)"/>
<circle cx="393.00" cy="121.30" r="1.5" fill="url(#gr)"/>
<circle cx="395.60" cy="121.90" r="1.5" fill="url(#gr)"/>
<circle cx="393.00" cy="127.50" r="1.5" fill="url(#gr)"/>
<circle cx="393.00" cy="129.50" r="1.5" fill="url(#gr)"/>
<line x1="383.90" y1="130.6" x2="390.10" y2="130.6" stroke="#15204a" stroke-width="1.3"/>
<line x1="389.90" y1="121.6" x2="396.10" y2="121.6" stroke="#111" stroke-width="1.3"/>
<polygon points="316.50,42.70 317.18,44.57 319.16,44.63 317.59,45.86 318.15,47.77 316.50,46.65 314.85,47.77 315.41,45.86 313.84,44.63 315.82,44.57" fill="#111"/>
<polygon points="331.80,42.70 332.48,44.57 334.46,44.63 332.89,45.86 333.45,47.77 331.80,46.65 330.15,47.77 330.71,45.86 329.14,44.63 331.12,44.57" fill="#111"/>
<polygon points="347.20,42.70 347.88,44.57 349.86,44.63 348.29,45.86 348.85,47.77 347.20,46.65 345.55,47.77 346.11,45.86 344.54,44.63 346.52,44.57" fill="#111"/>
<polygon points="362.20,42.70 362.88,44.57 364.86,44.63 363.29,45.86 363.85,47.77 362.20,46.65 360.55,47.77 361.11,45.86 359.54,44.63 361.52,44.57" fill="#111"/>
<polygon points="377.60,42.70 378.28,44.57 380.26,44.63 378.69,45.86 379.25,47.77 377.60,46.65 375.95,47.77 376.51,45.86 374.94,44.63 376.92,44.57" fill="#111"/>
<circle cx="429.00" cy="120.40" r="1.5" fill="url(#gb)"/>
<circle cx="429.00" cy="126.70" r="1.5" fill="url(#gb)"/>
<circle cx="430.40" cy="128.10" r="1.5" fill="url(#gb)"/>
<circle cx="435.00" cy="81.50" r="1.5" fill="url(#gr)"/>
<circle cx="435.00" cy="94.20" r="1.5" fill="url(#gr)"/>
<circle cx="435.00" cy="101.20" r="1.5" fill="url(#gr)"/>
<circle cx="435.00" cy="104.20" r="1.5" fill="url(#gr)"/>
<circle cx="435.00" cy="111.70" r="1.5" fill="url(#gr)"/>
<circle cx="435.00" cy="115.40" r="1.5" fill="url(#gr)"/>
<circle cx="435.00" cy="117.30" r="1.5" fill="url(#gr)"/>
<line x1="425.90" y1="126.7" x2="432.10" y2="126.7" stroke="#15204a" stroke-width="1.3"/>
<line x1="431.90" y1="103.5" x2="438.10" y2="103.5" stroke="#111" stroke-width="1.3"/>
<circle cx="444.70" cy="123.80" r="1.5" fill="url(#gb)"/>
<circle cx="447.30" cy="124.20" r="1.5" fill="url(#gb)"/>
<circle cx="442.10" cy="124.80" r="1.5" fill="url(#gb)"/>
<circle cx="450.20" cy="76.20" r="1.5" fill="url(#gr)"/>
<circle cx="450.20" cy="90.30" r="1.5" fill="url(#gr)"/>
<circle cx="450.20" cy="93.10" r="1.5" fill="url(#gr)"/>
<circle cx="452.80" cy="93.30" r="1.5" fill="url(#gr)"/>
<circle cx="450.20" cy="97.90" r="1.5" fill="url(#gr)"/>
<circle cx="450.20" cy="101.50" r="1.5" fill="url(#gr)"/>
<circle cx="450.20" cy="105.70" r="1.5" fill="url(#gr)"/>
<circle cx="450.20" cy="118.50" r="1.5" fill="url(#gr)"/>
<line x1="441.60" y1="124.0" x2="447.80" y2="124.0" stroke="#15204a" stroke-width="1.3"/>
<line x1="447.10" y1="97.8" x2="453.30" y2="97.8" stroke="#111" stroke-width="1.3"/>
<circle cx="459.80" cy="121.50" r="1.5" fill="url(#gb)"/>
<circle cx="459.80" cy="123.80" r="1.5" fill="url(#gb)"/>
<circle cx="459.80" cy="127.70" r="1.5" fill="url(#gb)"/>
<circle cx="465.60" cy="82.00" r="1.5" fill="url(#gr)"/>
<circle cx="467.00" cy="83.40" r="1.5" fill="url(#gr)"/>
<circle cx="465.60" cy="95.80" r="1.5" fill="url(#gr)"/>
<circle cx="467.00" cy="96.90" r="1.5" fill="url(#gr)"/>
<circle cx="464.20" cy="97.20" r="1.5" fill="url(#gr)"/>
<circle cx="465.60" cy="102.50" r="1.5" fill="url(#gr)"/>
<circle cx="465.60" cy="106.70" r="1.5" fill="url(#gr)"/>
<line x1="456.70" y1="123.8" x2="462.90" y2="123.8" stroke="#15204a" stroke-width="1.3"/>
<line x1="462.50" y1="96.5" x2="468.70" y2="96.5" stroke="#111" stroke-width="1.3"/>
<circle cx="475.20" cy="124.20" r="1.5" fill="url(#gb)"/>
<circle cx="475.20" cy="127.10" r="1.5" fill="url(#gb)"/>
<circle cx="480.90" cy="94.90" r="1.5" fill="url(#gr)"/>
<circle cx="482.30" cy="96.00" r="1.5" fill="url(#gr)"/>
<circle cx="480.90" cy="98.80" r="1.5" fill="url(#gr)"/>
<circle cx="480.90" cy="101.70" r="1.5" fill="url(#gr)"/>
<circle cx="480.90" cy="104.60" r="1.5" fill="url(#gr)"/>
<circle cx="482.30" cy="106.20" r="1.5" fill="url(#gr)"/>
<circle cx="480.90" cy="108.80" r="1.5" fill="url(#gr)"/>
<circle cx="480.90" cy="111.90" r="1.5" fill="url(#gr)"/>
<circle cx="480.90" cy="116.70" r="1.5" fill="url(#gr)"/>
<line x1="472.10" y1="127.1" x2="478.30" y2="127.1" stroke="#15204a" stroke-width="1.3"/>
<line x1="477.80" y1="104.8" x2="484.00" y2="104.8" stroke="#111" stroke-width="1.3"/>
<circle cx="490.30" cy="123.80" r="1.5" fill="url(#gb)"/>
<circle cx="490.30" cy="126.20" r="1.5" fill="url(#gb)"/>
<circle cx="496.00" cy="75.10" r="1.5" fill="url(#gr)"/>
<circle cx="496.00" cy="92.60" r="1.5" fill="url(#gr)"/>
<circle cx="496.00" cy="105.70" r="1.5" fill="url(#gr)"/>
<circle cx="496.00" cy="109.00" r="1.5" fill="url(#gr)"/>
<circle cx="496.00" cy="113.10" r="1.5" fill="url(#gr)"/>
<circle cx="496.00" cy="119.60" r="1.5" fill="url(#gr)"/>
<circle cx="496.00" cy="121.50" r="1.5" fill="url(#gr)"/>
<line x1="487.20" y1="126.2" x2="493.40" y2="126.2" stroke="#15204a" stroke-width="1.3"/>
<line x1="492.90" y1="109.0" x2="499.10" y2="109.0" stroke="#111" stroke-width="1.3"/>
<circle cx="505.00" cy="129.60" r="1.5" fill="url(#gb)"/>
<circle cx="507.60" cy="130.00" r="1.5" fill="url(#gb)"/>
<circle cx="511.30" cy="102.30" r="1.5" fill="url(#gr)"/>
<circle cx="511.30" cy="108.80" r="1.5" fill="url(#gr)"/>
<circle cx="511.30" cy="111.10" r="1.5" fill="url(#gr)"/>
<circle cx="511.30" cy="116.20" r="1.5" fill="url(#gr)"/>
<circle cx="511.30" cy="120.00" r="1.5" fill="url(#gr)"/>
<circle cx="511.30" cy="122.90" r="1.5" fill="url(#gr)"/>
<circle cx="511.30" cy="125.80" r="1.5" fill="url(#gr)"/>
<circle cx="511.30" cy="128.10" r="1.5" fill="url(#gr)"/>
<line x1="501.90" y1="130.0" x2="508.10" y2="130.0" stroke="#15204a" stroke-width="1.3"/>
<line x1="508.20" y1="120.0" x2="514.40" y2="120.0" stroke="#111" stroke-width="1.3"/>
<polygon points="435.00,42.70 435.68,44.57 437.66,44.63 436.09,45.86 436.65,47.77 435.00,46.65 433.35,47.77 433.91,45.86 432.34,44.63 434.32,44.57" fill="#111"/>
<polygon points="450.20,42.70 450.88,44.57 452.86,44.63 451.29,45.86 451.85,47.77 450.20,46.65 448.55,47.77 449.11,45.86 447.54,44.63 449.52,44.57" fill="#111"/>
<polygon points="465.60,42.70 466.28,44.57 468.26,44.63 466.69,45.86 467.25,47.77 465.60,46.65 463.95,47.77 464.51,45.86 462.94,44.63 464.92,44.57" fill="#111"/>
<polygon points="480.90,42.70 481.58,44.57 483.56,44.63 481.99,45.86 482.55,47.77 480.90,46.65 479.25,47.77 479.81,45.86 478.24,44.63 480.22,44.57" fill="#111"/>
<polygon points="496.00,42.70 496.68,44.57 498.66,44.63 497.09,45.86 497.65,47.77 496.00,46.65 494.35,47.77 494.91,45.86 493.34,44.63 495.32,44.57" fill="#111"/>
<polygon points="511.30,42.70 511.98,44.57 513.96,44.63 512.39,45.86 512.95,47.77 511.30,46.65 509.65,47.77 510.21,45.86 508.64,44.63 510.62,44.57" fill="#111"/>
<circle cx="47.10" cy="212.50" r="1.5" fill="url(#gb)"/>
<circle cx="49.70" cy="213.00" r="1.5" fill="url(#gb)"/>
<circle cx="47.10" cy="221.40" r="1.5" fill="url(#gb)"/>
<circle cx="53.00" cy="188.30" r="1.5" fill="url(#gr)"/>
<circle cx="54.40" cy="189.40" r="1.5" fill="url(#gr)"/>
<circle cx="53.00" cy="196.40" r="1.5" fill="url(#gr)"/>
<circle cx="53.00" cy="206.40" r="1.5" fill="url(#gr)"/>
<circle cx="53.00" cy="208.40" r="1.5" fill="url(#gr)"/>
<circle cx="53.00" cy="210.30" r="1.5" fill="url(#gr)"/>
<circle cx="53.00" cy="218.50" r="1.5" fill="url(#gr)"/>
<line x1="44.00" y1="212.8" x2="50.20" y2="212.8" stroke="#15204a" stroke-width="1.3"/>
<line x1="49.90" y1="207.0" x2="56.10" y2="207.0" stroke="#111" stroke-width="1.3"/>
<circle cx="62.40" cy="211.90" r="1.5" fill="url(#gb)"/>
<circle cx="62.40" cy="219.60" r="1.5" fill="url(#gb)"/>
<circle cx="63.80" cy="220.70" r="1.5" fill="url(#gb)"/>
<circle cx="68.30" cy="180.30" r="1.5" fill="url(#gr)"/>
<circle cx="68.30" cy="194.90" r="1.5" fill="url(#gr)"/>
<circle cx="69.70" cy="196.40" r="1.5" fill="url(#gr)"/>
<circle cx="68.30" cy="198.00" r="1.5" fill="url(#gr)"/>
<circle cx="68.30" cy="200.80" r="1.5" fill="url(#gr)"/>
<circle cx="68.30" cy="205.90" r="1.5" fill="url(#gr)"/>
<line x1="59.30" y1="219.8" x2="65.50" y2="219.8" stroke="#15204a" stroke-width="1.3"/>
<line x1="65.20" y1="197.5" x2="71.40" y2="197.5" stroke="#111" stroke-width="1.3"/>
<circle cx="77.90" cy="210.30" r="1.5" fill="url(#gb)"/>
<circle cx="77.90" cy="215.80" r="1.5" fill="url(#gb)"/>
<circle cx="77.90" cy="221.40" r="1.5" fill="url(#gb)"/>
<circle cx="83.60" cy="180.30" r="1.5" fill="url(#gr)"/>
<circle cx="83.60" cy="189.10" r="1.5" fill="url(#gr)"/>
<circle cx="83.60" cy="197.50" r="1.5" fill="url(#gr)"/>
<circle cx="83.60" cy="200.80" r="1.5" fill="url(#gr)"/>
<circle cx="86.20" cy="201.50" r="1.5" fill="url(#gr)"/>
<circle cx="83.60" cy="203.70" r="1.5" fill="url(#gr)"/>
<circle cx="86.20" cy="204.20" r="1.5" fill="url(#gr)"/>
<line x1="74.80" y1="215.9" x2="81.00" y2="215.9" stroke="#15204a" stroke-width="1.3"/>
<line x1="80.50" y1="200.8" x2="86.70" y2="200.8" stroke="#111" stroke-width="1.3"/>
<circle cx="92.80" cy="219.60" r="1.5" fill="url(#gb)"/>
<circle cx="92.80" cy="224.00" r="1.5" fill="url(#gb)"/>
<circle cx="94.20" cy="225.10" r="1.5" fill="url(#gb)"/>
<circle cx="98.80" cy="193.10" r="1.5" fill="url(#gr)"/>
<circle cx="98.80" cy="205.30" r="1.5" fill="url(#gr)"/>
<circle cx="100.20" cy="206.40" r="1.5" fill="url(#gr)"/>
<circle cx="98.80" cy="209.00" r="1.5" fill="url(#gr)"/>
<circle cx="98.80" cy="211.90" r="1.5" fill="url(#gr)"/>
<circle cx="98.80" cy="219.60" r="1.5" fill="url(#gr)"/>
<circle cx="98.80" cy="222.30" r="1.5" fill="url(#gr)"/>
<line x1="89.70" y1="224.2" x2="95.90" y2="224.2" stroke="#15204a" stroke-width="1.3"/>
<line x1="95.70" y1="208.1" x2="101.90" y2="208.1" stroke="#111" stroke-width="1.3"/>
<circle cx="107.80" cy="219.20" r="1.5" fill="url(#gb)"/>
<circle cx="107.80" cy="221.80" r="1.5" fill="url(#gb)"/>
<circle cx="107.80" cy="226.70" r="1.5" fill="url(#gb)"/>
<circle cx="113.80" cy="208.60" r="1.5" fill="url(#gr)"/>
<circle cx="113.80" cy="216.30" r="1.5" fill="url(#gr)"/>
<circle cx="115.20" cy="217.80" r="1.5" fill="url(#gr)"/>
<circle cx="112.40" cy="218.50" r="1.5" fill="url(#gr)"/>
<circle cx="113.80" cy="219.60" r="1.5" fill="url(#gr)"/>
<circle cx="113.80" cy="221.40" r="1.5" fill="url(#gr)"/>
<circle cx="113.80" cy="225.80" r="1.5" fill="url(#gr)"/>
<line x1="104.70" y1="221.8" x2="110.90" y2="221.8" stroke="#15204a" stroke-width="1.3"/>
<line x1="110.70" y1="218.5" x2="116.90" y2="218.5" stroke="#111" stroke-width="1.3"/>
<circle cx="123.20" cy="225.80" r="1.5" fill="url(#gb)"/>
<circle cx="123.20" cy="230.60" r="1.5" fill="url(#gb)"/>
<circle cx="123.20" cy="234.00" r="1.5" fill="url(#gb)"/>
<circle cx="129.00" cy="190.90" r="1.5" fill="url(#gr)"/>
<circle cx="129.00" cy="192.70" r="1.5" fill="url(#gr)"/>
<circle cx="129.00" cy="203.00" r="1.5" fill="url(#gr)"/>
<circle cx="129.00" cy="206.40" r="1.5" fill="url(#gr)"/>
<circle cx="129.00" cy="208.60" r="1.5" fill="url(#gr)"/>
<circle cx="129.00" cy="211.90" r="1.5" fill="url(#gr)"/>
<circle cx="129.00" cy="219.60" r="1.5" fill="url(#gr)"/>
<circle cx="129.00" cy="230.60" r="1.5" fill="url(#gr)"/>
<line x1="120.10" y1="230.6" x2="126.30" y2="230.6" stroke="#15204a" stroke-width="1.3"/>
<line x1="125.90" y1="208.6" x2="132.10" y2="208.6" stroke="#111" stroke-width="1.3"/>
<polygon points="68.30,144.60 68.98,146.47 70.96,146.53 69.39,147.76 69.95,149.67 68.30,148.55 66.65,149.67 67.21,147.76 65.64,146.53 67.62,146.47" fill="#111"/>
<polygon points="83.60,144.60 84.28,146.47 86.26,146.53 84.69,147.76 85.25,149.67 83.60,148.55 81.95,149.67 82.51,147.76 80.94,146.53 82.92,146.47" fill="#111"/>
<polygon points="98.80,144.60 99.48,146.47 101.46,146.53 99.89,147.76 100.45,149.67 98.80,148.55 97.15,149.67 97.71,147.76 96.14,146.53 98.12,146.47" fill="#111"/>
<polygon points="129.00,144.60 129.68,146.47 131.66,146.53 130.09,147.76 130.65,149.67 129.00,148.55 127.35,149.67 127.91,147.76 126.34,146.53 128.32,146.47" fill="#111"/>
<circle cx="170.00" cy="214.60" r="1.5" fill="url(#gb)"/>
<circle cx="170.00" cy="217.50" r="1.5" fill="url(#gb)"/>
<circle cx="170.00" cy="222.30" r="1.5" fill="url(#gb)"/>
<circle cx="175.60" cy="196.50" r="1.5" fill="url(#gr)"/>
<circle cx="175.60" cy="198.70" r="1.5" fill="url(#gr)"/>
<circle cx="178.20" cy="199.00" r="1.5" fill="url(#gr)"/>
<circle cx="175.60" cy="203.80" r="1.5" fill="url(#gr)"/>
<circle cx="175.60" cy="207.70" r="1.5" fill="url(#gr)"/>
<circle cx="175.60" cy="212.10" r="1.5" fill="url(#gr)"/>
<circle cx="175.60" cy="217.50" r="1.5" fill="url(#gr)"/>
<line x1="166.90" y1="217.5" x2="173.10" y2="217.5" stroke="#15204a" stroke-width="1.3"/>
<line x1="172.50" y1="203.8" x2="178.70" y2="203.8" stroke="#111" stroke-width="1.3"/>
<circle cx="185.20" cy="207.90" r="1.5" fill="url(#gb)"/>
<circle cx="185.20" cy="215.00" r="1.5" fill="url(#gb)"/>
<circle cx="185.20" cy="219.20" r="1.5" fill="url(#gb)"/>
<circle cx="191.00" cy="165.00" r="1.5" fill="url(#gr)"/>
<circle cx="191.00" cy="174.60" r="1.5" fill="url(#gr)"/>
<circle cx="191.00" cy="178.80" r="1.5" fill="url(#gr)"/>
<circle cx="192.40" cy="180.20" r="1.5" fill="url(#gr)"/>
<circle cx="191.00" cy="189.00" r="1.5" fill="url(#gr)"/>
<circle cx="192.40" cy="190.50" r="1.5" fill="url(#gr)"/>
<circle cx="191.00" cy="207.90" r="1.5" fill="url(#gr)"/>
<line x1="182.10" y1="215.0" x2="188.30" y2="215.0" stroke="#15204a" stroke-width="1.3"/>
<line x1="187.90" y1="180.2" x2="194.10" y2="180.2" stroke="#111" stroke-width="1.3"/>
<circle cx="200.30" cy="207.30" r="1.5" fill="url(#gb)"/>
<circle cx="200.30" cy="214.00" r="1.5" fill="url(#gb)"/>
<circle cx="202.90" cy="214.60" r="1.5" fill="url(#gb)"/>
<circle cx="206.40" cy="154.80" r="1.5" fill="url(#gr)"/>
<circle cx="206.40" cy="172.50" r="1.5" fill="url(#gr)"/>
<circle cx="206.40" cy="176.90" r="1.5" fill="url(#gr)"/>
<circle cx="206.40" cy="178.80" r="1.5" fill="url(#gr)"/>
<circle cx="209.00" cy="179.00" r="1.5" fill="url(#gr)"/>
<circle cx="206.40" cy="185.60" r="1.5" fill="url(#gr)"/>
<circle cx="209.00" cy="186.50" r="1.5" fill="url(#gr)"/>
<circle cx="206.40" cy="191.30" r="1.5" fill="url(#gr)"/>
<line x1="197.20" y1="214.0" x2="203.40" y2="214.0" stroke="#15204a" stroke-width="1.3"/>
<line x1="203.30" y1="178.8" x2="209.50" y2="178.8" stroke="#111" stroke-width="1.3"/>
<circle cx="215.50" cy="220.40" r="1.5" fill="url(#gb)"/>
<circle cx="215.50" cy="223.10" r="1.5" fill="url(#gb)"/>
<circle cx="215.50" cy="225.20" r="1.5" fill="url(#gb)"/>
<circle cx="221.70" cy="177.30" r="1.5" fill="url(#gr)"/>
<circle cx="221.70" cy="187.10" r="1.5" fill="url(#gr)"/>
<circle cx="221.70" cy="201.50" r="1.5" fill="url(#gr)"/>
<circle cx="221.70" cy="211.50" r="1.5" fill="url(#gr)"/>
<circle cx="221.70" cy="214.60" r="1.5" fill="url(#gr)"/>
<circle cx="221.70" cy="217.90" r="1.5" fill="url(#gr)"/>
<circle cx="221.70" cy="220.40" r="1.5" fill="url(#gr)"/>
<circle cx="221.70" cy="222.70" r="1.5" fill="url(#gr)"/>
<line x1="212.40" y1="225.2" x2="218.60" y2="225.2" stroke="#15204a" stroke-width="1.3"/>
<line x1="218.60" y1="214.6" x2="224.80" y2="214.6" stroke="#111" stroke-width="1.3"/>
<circle cx="230.80" cy="223.10" r="1.5" fill="url(#gb)"/>
<circle cx="230.80" cy="225.20" r="1.5" fill="url(#gb)"/>
<circle cx="230.80" cy="230.40" r="1.5" fill="url(#gb)"/>
<circle cx="236.90" cy="195.60" r="1.5" fill="url(#gr)"/>
<circle cx="236.90" cy="210.20" r="1.5" fill="url(#gr)"/>
<circle cx="236.90" cy="214.60" r="1.5" fill="url(#gr)"/>
<circle cx="236.90" cy="218.80" r="1.5" fill="url(#gr)"/>
<circle cx="239.50" cy="219.20" r="1.5" fill="url(#gr)"/>
<circle cx="236.90" cy="223.10" r="1.5" fill="url(#gr)"/>
<circle cx="236.90" cy="225.60" r="1.5" fill="url(#gr)"/>
<circle cx="236.90" cy="229.40" r="1.5" fill="url(#gr)"/>
<line x1="227.70" y1="225.2" x2="233.90" y2="225.2" stroke="#15204a" stroke-width="1.3"/>
<line x1="233.80" y1="219.2" x2="240.00" y2="219.2" stroke="#111" stroke-width="1.3"/>
<circle cx="246.30" cy="223.70" r="1.5" fill="url(#gb)"/>
<circle cx="246.30" cy="229.80" r="1.5" fill="url(#gb)"/>
<circle cx="246.30" cy="234.20" r="1.5" fill="url(#gb)"/>
<circle cx="251.90" cy="188.80" r="1.5" fill="url(#gr)"/>
<circle cx="251.90" cy="197.70" r="1.5" fill="url(#gr)"/>
<circle cx="251.90" cy="203.50" r="1.5" fill="url(#gr)"/>
<circle cx="251.90" cy="211.50" r="1.5" fill="url(#gr)"/>
<circle cx="254.50" cy="212.50" r="1.5" fill="url(#gr)"/>
<circle cx="251.90" cy="217.90" r="1.5" fill="url(#gr)"/>
<circle cx="251.90" cy="220.40" r="1.5" fill="url(#gr)"/>
<circle cx="251.90" cy="225.00" r="1.5" fill="url(#gr)"/>
<line x1="243.20" y1="229.8" x2="249.40" y2="229.8" stroke="#15204a" stroke-width="1.3"/>
<line x1="248.80" y1="212.5" x2="255.00" y2="212.5" stroke="#111" stroke-width="1.3"/>
<polygon points="251.90,144.60 252.58,146.47 254.56,146.53 252.99,147.76 253.55,149.67 251.90,148.55 250.25,149.67 250.81,147.76 249.24,146.53 251.22,146.47" fill="#111"/>
<circle cx="310.80" cy="172.10" r="1.5" fill="url(#gb)"/>
<circle cx="310.80" cy="181.70" r="1.5" fill="url(#gb)"/>
<circle cx="310.80" cy="189.80" r="1.5" fill="url(#gb)"/>
<circle cx="316.50" cy="161.20" r="1.5" fill="url(#gr)"/>
<circle cx="316.50" cy="164.40" r="1.5" fill="url(#gr)"/>
<circle cx="316.50" cy="166.90" r="1.5" fill="url(#gr)"/>
<circle cx="316.50" cy="169.80" r="1.5" fill="url(#gr)"/>
<circle cx="316.50" cy="173.70" r="1.5" fill="url(#gr)"/>
<circle cx="316.50" cy="178.80" r="1.5" fill="url(#gr)"/>
<circle cx="317.90" cy="180.40" r="1.5" fill="url(#gr)"/>
<circle cx="316.50" cy="182.30" r="1.5" fill="url(#gr)"/>
<line x1="307.70" y1="181.7" x2="313.90" y2="181.7" stroke="#15204a" stroke-width="1.3"/>
<line x1="313.40" y1="173.7" x2="319.60" y2="173.7" stroke="#111" stroke-width="1.3"/>
<circle cx="325.80" cy="182.70" r="1.5" fill="url(#gb)"/>
<circle cx="325.80" cy="186.20" r="1.5" fill="url(#gb)"/>
<circle cx="325.80" cy="188.50" r="1.5" fill="url(#gb)"/>
<circle cx="331.80" cy="161.20" r="1.5" fill="url(#gr)"/>
<circle cx="331.80" cy="169.20" r="1.5" fill="url(#gr)"/>
<circle cx="331.80" cy="171.20" r="1.5" fill="url(#gr)"/>
<circle cx="331.80" cy="173.10" r="1.5" fill="url(#gr)"/>
<circle cx="331.80" cy="178.80" r="1.5" fill="url(#gr)"/>
<circle cx="331.80" cy="180.80" r="1.5" fill="url(#gr)"/>
<circle cx="333.20" cy="182.30" r="1.5" fill="url(#gr)"/>
<line x1="322.70" y1="186.2" x2="328.90" y2="186.2" stroke="#15204a" stroke-width="1.3"/>
<line x1="328.70" y1="173.1" x2="334.90" y2="173.1" stroke="#111" stroke-width="1.3"/>
<circle cx="341.00" cy="185.60" r="1.5" fill="url(#gb)"/>
<circle cx="341.00" cy="189.80" r="1.5" fill="url(#gb)"/>
<circle cx="341.00" cy="196.20" r="1.5" fill="url(#gb)"/>
<circle cx="347.20" cy="165.80" r="1.5" fill="url(#gr)"/>
<circle cx="347.20" cy="172.70" r="1.5" fill="url(#gr)"/>
<circle cx="347.20" cy="175.60" r="1.5" fill="url(#gr)"/>
<circle cx="347.20" cy="180.20" r="1.5" fill="url(#gr)"/>
<circle cx="348.60" cy="181.70" r="1.5" fill="url(#gr)"/>
<circle cx="347.20" cy="183.10" r="1.5" fill="url(#gr)"/>
<circle cx="347.20" cy="188.50" r="1.5" fill="url(#gr)"/>
<circle cx="347.20" cy="190.40" r="1.5" fill="url(#gr)"/>
<line x1="337.90" y1="189.8" x2="344.10" y2="189.8" stroke="#15204a" stroke-width="1.3"/>
<line x1="344.10" y1="180.2" x2="350.30" y2="180.2" stroke="#111" stroke-width="1.3"/>
<circle cx="356.40" cy="179.40" r="1.5" fill="url(#gb)"/>
<circle cx="356.40" cy="195.20" r="1.5" fill="url(#gb)"/>
<circle cx="362.20" cy="168.30" r="1.5" fill="url(#gr)"/>
<circle cx="362.20" cy="170.80" r="1.5" fill="url(#gr)"/>
<circle cx="362.20" cy="175.00" r="1.5" fill="url(#gr)"/>
<circle cx="362.20" cy="176.90" r="1.5" fill="url(#gr)"/>
<circle cx="362.20" cy="179.40" r="1.5" fill="url(#gr)"/>
<circle cx="362.20" cy="186.50" r="1.5" fill="url(#gr)"/>
<circle cx="362.20" cy="188.50" r="1.5" fill="url(#gr)"/>
<line x1="353.30" y1="195.2" x2="359.50" y2="195.2" stroke="#15204a" stroke-width="1.3"/>
<line x1="359.10" y1="175.0" x2="365.30" y2="175.0" stroke="#111" stroke-width="1.3"/>
<circle cx="371.70" cy="195.40" r="1.5" fill="url(#gb)"/>
<circle cx="371.70" cy="202.50" r="1.5" fill="url(#gb)"/>
<circle cx="371.70" cy="206.70" r="1.5" fill="url(#gb)"/>
<circle cx="377.60" cy="166.90" r="1.5" fill="url(#gr)"/>
<circle cx="377.60" cy="168.80" r="1.5" fill="url(#gr)"/>
<circle cx="377.60" cy="177.90" r="1.5" fill="url(#gr)"/>
<circle cx="377.60" cy="180.20" r="1.5" fill="url(#gr)"/>
<circle cx="380.20" cy="180.80" r="1.5" fill="url(#gr)"/>
<circle cx="377.60" cy="186.20" r="1.5" fill="url(#gr)"/>
<circle cx="377.60" cy="193.30" r="1.5" fill="url(#gr)"/>
<line x1="368.60" y1="202.5" x2="374.80" y2="202.5" stroke="#15204a" stroke-width="1.3"/>
<line x1="374.50" y1="180.2" x2="380.70" y2="180.2" stroke="#111" stroke-width="1.3"/>
<circle cx="387.00" cy="188.80" r="1.5" fill="url(#gb)"/>
<circle cx="387.00" cy="216.00" r="1.5" fill="url(#gb)"/>
<circle cx="387.00" cy="225.60" r="1.5" fill="url(#gb)"/>
<circle cx="393.00" cy="164.40" r="1.5" fill="url(#gr)"/>
<circle cx="393.00" cy="168.80" r="1.5" fill="url(#gr)"/>
<circle cx="393.00" cy="171.70" r="1.5" fill="url(#gr)"/>
<circle cx="395.60" cy="172.10" r="1.5" fill="url(#gr)"/>
<circle cx="393.00" cy="178.80" r="1.5" fill="url(#gr)"/>
<circle cx="393.00" cy="184.60" r="1.5" fill="url(#gr)"/>
<circle cx="393.00" cy="188.50" r="1.5" fill="url(#gr)"/>
<circle cx="393.00" cy="192.90" r="1.5" fill="url(#gr)"/>
<line x1="383.90" y1="216.0" x2="390.10" y2="216.0" stroke="#15204a" stroke-width="1.3"/>
<line x1="389.90" y1="171.7" x2="396.10" y2="171.7" stroke="#111" stroke-width="1.3"/>
<polygon points="332.70,144.60 333.38,146.47 335.36,146.53 333.79,147.76 334.35,149.67 332.70,148.55 331.05,149.67 331.61,147.76 330.04,146.53 332.02,146.47" fill="#111"/>
<polygon points="378.50,144.60 379.18,146.47 381.16,146.53 379.59,147.76 380.15,149.67 378.50,148.55 376.85,149.67 377.41,147.76 375.84,146.53 377.82,146.47" fill="#111"/>
<polygon points="393.90,144.60 394.58,146.47 396.56,146.53 394.99,147.76 395.55,149.67 393.90,148.55 392.25,149.67 392.81,147.76 391.24,146.53 393.22,146.47" fill="#111"/>
<circle cx="429.00" cy="169.60" r="1.5" fill="url(#gb)"/>
<circle cx="429.00" cy="174.00" r="1.5" fill="url(#gb)"/>
<circle cx="429.00" cy="187.90" r="1.5" fill="url(#gb)"/>
<circle cx="435.00" cy="164.40" r="1.5" fill="url(#gr)"/>
<circle cx="435.00" cy="166.90" r="1.5" fill="url(#gr)"/>
<circle cx="435.00" cy="169.20" r="1.5" fill="url(#gr)"/>
<circle cx="437.60" cy="169.50" r="1.5" fill="url(#gr)"/>
<circle cx="435.00" cy="175.00" r="1.5" fill="url(#gr)"/>
<circle cx="437.60" cy="176.00" r="1.5" fill="url(#gr)"/>
<line x1="425.90" y1="174.0" x2="432.10" y2="174.0" stroke="#15204a" stroke-width="1.3"/>
<line x1="431.90" y1="169.2" x2="438.10" y2="169.2" stroke="#111" stroke-width="1.3"/>
<circle cx="444.70" cy="185.60" r="1.5" fill="url(#gb)"/>
<circle cx="444.70" cy="188.50" r="1.5" fill="url(#gb)"/>
<circle cx="444.70" cy="194.70" r="1.5" fill="url(#gb)"/>
<circle cx="450.20" cy="160.00" r="1.5" fill="url(#gr)"/>
<circle cx="450.20" cy="165.40" r="1.5" fill="url(#gr)"/>
<circle cx="451.60" cy="166.90" r="1.5" fill="url(#gr)"/>
<circle cx="450.20" cy="169.20" r="1.5" fill="url(#gr)"/>
<circle cx="452.80" cy="170.20" r="1.5" fill="url(#gr)"/>
<circle cx="450.20" cy="173.70" r="1.5" fill="url(#gr)"/>
<circle cx="450.20" cy="178.50" r="1.5" fill="url(#gr)"/>
<line x1="441.60" y1="188.5" x2="447.80" y2="188.5" stroke="#15204a" stroke-width="1.3"/>
<line x1="447.10" y1="169.2" x2="453.30" y2="169.2" stroke="#111" stroke-width="1.3"/>
<circle cx="459.80" cy="185.00" r="1.5" fill="url(#gb)"/>
<circle cx="459.80" cy="197.40" r="1.5" fill="url(#gb)"/>
<circle cx="459.80" cy="204.40" r="1.5" fill="url(#gb)"/>
<circle cx="465.60" cy="163.50" r="1.5" fill="url(#gr)"/>
<circle cx="465.60" cy="165.40" r="1.5" fill="url(#gr)"/>
<circle cx="465.60" cy="168.70" r="1.5" fill="url(#gr)"/>
<circle cx="465.60" cy="171.20" r="1.5" fill="url(#gr)"/>
<circle cx="468.20" cy="172.10" r="1.5" fill="url(#gr)"/>
<circle cx="465.60" cy="173.50" r="1.5" fill="url(#gr)"/>
<circle cx="465.60" cy="177.90" r="1.5" fill="url(#gr)"/>
<circle cx="465.60" cy="181.70" r="1.5" fill="url(#gr)"/>
<circle cx="465.60" cy="185.20" r="1.5" fill="url(#gr)"/>
<line x1="456.70" y1="197.4" x2="462.90" y2="197.4" stroke="#15204a" stroke-width="1.3"/>
<line x1="462.50" y1="171.2" x2="468.70" y2="171.2" stroke="#111" stroke-width="1.3"/>
<circle cx="475.20" cy="172.70" r="1.5" fill="url(#gb)"/>
<circle cx="475.20" cy="190.00" r="1.5" fill="url(#gb)"/>
<circle cx="475.20" cy="196.30" r="1.5" fill="url(#gb)"/>
<circle cx="480.90" cy="163.10" r="1.5" fill="url(#gr)"/>
<circle cx="480.90" cy="165.40" r="1.5" fill="url(#gr)"/>
<circle cx="482.30" cy="166.90" r="1.5" fill="url(#gr)"/>
<circle cx="479.50" cy="167.90" r="1.5" fill="url(#gr)"/>
<circle cx="480.90" cy="169.20" r="1.5" fill="url(#gr)"/>
<circle cx="480.90" cy="176.90" r="1.5" fill="url(#gr)"/>
<circle cx="480.90" cy="180.40" r="1.5" fill="url(#gr)"/>
<line x1="472.10" y1="190.0" x2="478.30" y2="190.0" stroke="#15204a" stroke-width="1.3"/>
<line x1="477.80" y1="167.9" x2="484.00" y2="167.9" stroke="#111" stroke-width="1.3"/>
<circle cx="490.30" cy="193.80" r="1.5" fill="url(#gb)"/>
<circle cx="490.30" cy="204.80" r="1.5" fill="url(#gb)"/>
<circle cx="490.30" cy="209.20" r="1.5" fill="url(#gb)"/>
<circle cx="496.00" cy="166.30" r="1.5" fill="url(#gr)"/>
<circle cx="497.40" cy="167.70" r="1.5" fill="url(#gr)"/>
<circle cx="496.00" cy="173.10" r="1.5" fill="url(#gr)"/>
<circle cx="497.40" cy="174.60" r="1.5" fill="url(#gr)"/>
<circle cx="494.60" cy="175.40" r="1.5" fill="url(#gr)"/>
<line x1="487.20" y1="204.8" x2="493.40" y2="204.8" stroke="#15204a" stroke-width="1.3"/>
<line x1="492.90" y1="174.6" x2="499.10" y2="174.6" stroke="#111" stroke-width="1.3"/>
<circle cx="505.00" cy="199.10" r="1.5" fill="url(#gb)"/>
<circle cx="505.00" cy="220.40" r="1.5" fill="url(#gb)"/>
<circle cx="505.00" cy="229.80" r="1.5" fill="url(#gb)"/>
<circle cx="511.30" cy="174.60" r="1.5" fill="url(#gr)"/>
<circle cx="511.30" cy="176.90" r="1.5" fill="url(#gr)"/>
<circle cx="511.30" cy="182.70" r="1.5" fill="url(#gr)"/>
<circle cx="513.90" cy="183.00" r="1.5" fill="url(#gr)"/>
<circle cx="511.30" cy="188.50" r="1.5" fill="url(#gr)"/>
<circle cx="511.30" cy="195.30" r="1.5" fill="url(#gr)"/>
<circle cx="512.70" cy="196.50" r="1.5" fill="url(#gr)"/>
<line x1="501.90" y1="220.4" x2="508.10" y2="220.4" stroke="#15204a" stroke-width="1.3"/>
<line x1="508.20" y1="182.7" x2="514.40" y2="182.7" stroke="#111" stroke-width="1.3"/>
<polygon points="450.20,144.60 450.88,146.47 452.86,146.53 451.29,147.76 451.85,149.67 450.20,148.55 448.55,149.67 449.11,147.76 447.54,146.53 449.52,146.47" fill="#111"/>
<polygon points="465.60,144.60 466.28,146.47 468.26,146.53 466.69,147.76 467.25,149.67 465.60,148.55 463.95,149.67 464.51,147.76 462.94,146.53 464.92,146.47" fill="#111"/>
<polygon points="496.00,144.60 496.68,146.47 498.66,146.53 497.09,147.76 497.65,149.67 496.00,148.55 494.35,149.67 494.91,147.76 493.34,146.53 495.32,146.47" fill="#111"/>
<polygon points="511.30,144.60 511.98,146.47 513.96,146.53 512.39,147.76 512.95,149.67 511.30,148.55 509.65,149.67 510.21,147.76 508.64,146.53 510.62,146.47" fill="#111"/>
<circle cx="47.10" cy="312.20" r="1.5" fill="url(#gb)"/>
<circle cx="47.10" cy="314.10" r="1.5" fill="url(#gb)"/>
<circle cx="47.10" cy="325.70" r="1.5" fill="url(#gb)"/>
<circle cx="53.00" cy="293.30" r="1.5" fill="url(#gr)"/>
<circle cx="53.00" cy="305.00" r="1.5" fill="url(#gr)"/>
<circle cx="53.00" cy="307.50" r="1.5" fill="url(#gr)"/>
<circle cx="53.00" cy="310.30" r="1.5" fill="url(#gr)"/>
<circle cx="53.00" cy="313.20" r="1.5" fill="url(#gr)"/>
<circle cx="53.00" cy="315.50" r="1.5" fill="url(#gr)"/>
<line x1="44.00" y1="314.1" x2="50.20" y2="314.1" stroke="#15204a" stroke-width="1.3"/>
<line x1="49.90" y1="308.9" x2="56.10" y2="308.9" stroke="#111" stroke-width="1.3"/>
<circle cx="62.40" cy="317.00" r="1.5" fill="url(#gb)"/>
<circle cx="62.40" cy="324.70" r="1.5" fill="url(#gb)"/>
<circle cx="63.80" cy="326.20" r="1.5" fill="url(#gb)"/>
<circle cx="68.30" cy="281.50" r="1.5" fill="url(#gr)"/>
<circle cx="68.30" cy="301.50" r="1.5" fill="url(#gr)"/>
<circle cx="68.30" cy="303.50" r="1.5" fill="url(#gr)"/>
<circle cx="68.30" cy="307.00" r="1.5" fill="url(#gr)"/>
<circle cx="69.70" cy="308.30" r="1.5" fill="url(#gr)"/>
<circle cx="68.30" cy="309.70" r="1.5" fill="url(#gr)"/>
<circle cx="68.30" cy="315.50" r="1.5" fill="url(#gr)"/>
<line x1="59.30" y1="324.7" x2="65.50" y2="324.7" stroke="#15204a" stroke-width="1.3"/>
<line x1="65.20" y1="307.0" x2="71.40" y2="307.0" stroke="#111" stroke-width="1.3"/>
<circle cx="77.90" cy="308.30" r="1.5" fill="url(#gb)"/>
<circle cx="77.90" cy="316.60" r="1.5" fill="url(#gb)"/>
<circle cx="79.30" cy="318.00" r="1.5" fill="url(#gb)"/>
<circle cx="83.60" cy="280.00" r="1.5" fill="url(#gr)"/>
<circle cx="83.60" cy="297.50" r="1.5" fill="url(#gr)"/>
<circle cx="83.60" cy="301.60" r="1.5" fill="url(#gr)"/>
<circle cx="83.60" cy="305.80" r="1.5" fill="url(#gr)"/>
<circle cx="83.60" cy="308.30" r="1.5" fill="url(#gr)"/>
<circle cx="83.60" cy="310.70" r="1.5" fill="url(#gr)"/>
<line x1="74.80" y1="316.6" x2="81.00" y2="316.6" stroke="#15204a" stroke-width="1.3"/>
<line x1="80.50" y1="305.5" x2="86.70" y2="305.5" stroke="#111" stroke-width="1.3"/>
<circle cx="92.80" cy="316.00" r="1.5" fill="url(#gb)"/>
<circle cx="92.80" cy="318.00" r="1.5" fill="url(#gb)"/>
<circle cx="92.80" cy="320.80" r="1.5" fill="url(#gb)"/>
<circle cx="98.80" cy="289.20" r="1.5" fill="url(#gr)"/>
<circle cx="98.80" cy="307.90" r="1.5" fill="url(#gr)"/>
<circle cx="101.40" cy="308.00" r="1.5" fill="url(#gr)"/>
<circle cx="100.20" cy="309.60" r="1.5" fill="url(#gr)"/>
<circle cx="97.40" cy="310.00" r="1.5" fill="url(#gr)"/>
<circle cx="101.40" cy="310.90" r="1.5" fill="url(#gr)"/>
<line x1="89.70" y1="318.0" x2="95.90" y2="318.0" stroke="#15204a" stroke-width="1.3"/>
<line x1="95.70" y1="309.3" x2="101.90" y2="309.3" stroke="#111" stroke-width="1.3"/>
<circle cx="107.80" cy="325.40" r="1.5" fill="url(#gb)"/>
<circle cx="110.40" cy="326.00" r="1.5" fill="url(#gb)"/>
<circle cx="113.80" cy="286.30" r="1.5" fill="url(#gr)"/>
<circle cx="113.80" cy="298.80" r="1.5" fill="url(#gr)"/>
<circle cx="113.80" cy="301.60" r="1.5" fill="url(#gr)"/>
<circle cx="113.80" cy="310.30" r="1.5" fill="url(#gr)"/>
<circle cx="113.80" cy="318.90" r="1.5" fill="url(#gr)"/>
<circle cx="113.80" cy="323.20" r="1.5" fill="url(#gr)"/>
<circle cx="116.40" cy="323.20" r="1.5" fill="url(#gr)"/>
<line x1="104.70" y1="325.7" x2="110.90" y2="325.7" stroke="#15204a" stroke-width="1.3"/>
<line x1="110.70" y1="312.8" x2="116.90" y2="312.8" stroke="#111" stroke-width="1.3"/>
<circle cx="123.20" cy="308.90" r="1.5" fill="url(#gb)"/>
<circle cx="123.20" cy="314.10" r="1.5" fill="url(#gb)"/>
<circle cx="123.20" cy="318.00" r="1.5" fill="url(#gb)"/>
<circle cx="129.00" cy="276.70" r="1.5" fill="url(#gr)"/>
<circle cx="129.00" cy="288.70" r="1.5" fill="url(#gr)"/>
<circle cx="129.00" cy="303.50" r="1.5" fill="url(#gr)"/>
<circle cx="129.00" cy="305.80" r="1.5" fill="url(#gr)"/>
<circle cx="129.00" cy="316.00" r="1.5" fill="url(#gr)"/>
<circle cx="129.00" cy="322.80" r="1.5" fill="url(#gr)"/>
<circle cx="131.60" cy="322.80" r="1.5" fill="url(#gr)"/>
<line x1="120.10" y1="314.1" x2="126.30" y2="314.1" stroke="#15204a" stroke-width="1.3"/>
<line x1="125.90" y1="310.8" x2="132.10" y2="310.8" stroke="#111" stroke-width="1.3"/>
<circle cx="170.00" cy="302.50" r="1.5" fill="url(#gb)"/>
<circle cx="170.00" cy="315.40" r="1.5" fill="url(#gb)"/>
<circle cx="175.60" cy="286.20" r="1.5" fill="url(#gr)"/>
<circle cx="175.60" cy="288.10" r="1.5" fill="url(#gr)"/>
<circle cx="175.60" cy="290.40" r="1.5" fill="url(#gr)"/>
<circle cx="175.60" cy="297.10" r="1.5" fill="url(#gr)"/>
<circle cx="175.60" cy="308.30" r="1.5" fill="url(#gr)"/>
<circle cx="178.20" cy="309.20" r="1.5" fill="url(#gr)"/>
<line x1="166.90" y1="302.5" x2="173.10" y2="302.5" stroke="#15204a" stroke-width="1.3"/>
<line x1="172.50" y1="297.1" x2="178.70" y2="297.1" stroke="#111" stroke-width="1.3"/>
<circle cx="185.20" cy="293.40" r="1.5" fill="url(#gb)"/>
<circle cx="185.20" cy="303.10" r="1.5" fill="url(#gb)"/>
<circle cx="185.20" cy="305.40" r="1.5" fill="url(#gb)"/>
<circle cx="191.00" cy="257.30" r="1.5" fill="url(#gr)"/>
<circle cx="191.00" cy="261.20" r="1.5" fill="url(#gr)"/>
<circle cx="191.00" cy="269.60" r="1.5" fill="url(#gr)"/>
<circle cx="191.00" cy="280.40" r="1.5" fill="url(#gr)"/>
<circle cx="191.00" cy="290.90" r="1.5" fill="url(#gr)"/>
<circle cx="191.00" cy="299.40" r="1.5" fill="url(#gr)"/>
<circle cx="191.00" cy="302.50" r="1.5" fill="url(#gr)"/>
<line x1="182.10" y1="303.1" x2="188.30" y2="303.1" stroke="#15204a" stroke-width="1.3"/>
<line x1="187.90" y1="280.4" x2="194.10" y2="280.4" stroke="#111" stroke-width="1.3"/>
<circle cx="200.30" cy="281.70" r="1.5" fill="url(#gb)"/>
<circle cx="200.30" cy="297.10" r="1.5" fill="url(#gb)"/>
<circle cx="200.30" cy="299.00" r="1.5" fill="url(#gb)"/>
<circle cx="206.40" cy="263.80" r="1.5" fill="url(#gr)"/>
<circle cx="207.80" cy="265.40" r="1.5" fill="url(#gr)"/>
<circle cx="206.40" cy="267.70" r="1.5" fill="url(#gr)"/>
<circle cx="206.40" cy="273.10" r="1.5" fill="url(#gr)"/>
<circle cx="207.80" cy="274.60" r="1.5" fill="url(#gr)"/>
<circle cx="206.40" cy="284.60" r="1.5" fill="url(#gr)"/>
<circle cx="206.40" cy="293.80" r="1.5" fill="url(#gr)"/>
<circle cx="206.40" cy="296.50" r="1.5" fill="url(#gr)"/>
<line x1="197.20" y1="297.1" x2="203.40" y2="297.1" stroke="#15204a" stroke-width="1.3"/>
<line x1="203.30" y1="273.1" x2="209.50" y2="273.1" stroke="#111" stroke-width="1.3"/>
<circle cx="215.50" cy="293.80" r="1.5" fill="url(#gb)"/>
<circle cx="218.10" cy="294.40" r="1.5" fill="url(#gb)"/>
<circle cx="215.50" cy="299.60" r="1.5" fill="url(#gb)"/>
<circle cx="221.70" cy="261.20" r="1.5" fill="url(#gr)"/>
<circle cx="221.70" cy="273.10" r="1.5" fill="url(#gr)"/>
<circle cx="221.70" cy="278.80" r="1.5" fill="url(#gr)"/>
<circle cx="221.70" cy="283.10" r="1.5" fill="url(#gr)"/>
<circle cx="223.10" cy="284.60" r="1.5" fill="url(#gr)"/>
<circle cx="221.70" cy="296.90" r="1.5" fill="url(#gr)"/>
<circle cx="221.70" cy="301.20" r="1.5" fill="url(#gr)"/>
<circle cx="221.70" cy="303.10" r="1.5" fill="url(#gr)"/>
<line x1="212.40" y1="294.4" x2="218.60" y2="294.4" stroke="#15204a" stroke-width="1.3"/>
<line x1="218.60" y1="283.1" x2="224.80" y2="283.1" stroke="#111" stroke-width="1.3"/>
<circle cx="230.80" cy="294.20" r="1.5" fill="url(#gb)"/>
<circle cx="233.40" cy="295.20" r="1.5" fill="url(#gb)"/>
<circle cx="230.80" cy="300.60" r="1.5" fill="url(#gb)"/>
<circle cx="236.90" cy="254.80" r="1.5" fill="url(#gr)"/>
<circle cx="236.90" cy="274.60" r="1.5" fill="url(#gr)"/>
<circle cx="236.90" cy="280.40" r="1.5" fill="url(#gr)"/>
<circle cx="236.90" cy="283.10" r="1.5" fill="url(#gr)"/>
<circle cx="239.50" cy="283.70" r="1.5" fill="url(#gr)"/>
<circle cx="236.90" cy="301.00" r="1.5" fill="url(#gr)"/>
<line x1="227.70" y1="296.6" x2="233.90" y2="296.6" stroke="#15204a" stroke-width="1.3"/>
<line x1="233.80" y1="282.3" x2="240.00" y2="282.3" stroke="#111" stroke-width="1.3"/>
<circle cx="246.30" cy="296.20" r="1.5" fill="url(#gb)"/>
<circle cx="246.30" cy="301.20" r="1.5" fill="url(#gb)"/>
<circle cx="246.30" cy="306.90" r="1.5" fill="url(#gb)"/>
<circle cx="251.90" cy="272.70" r="1.5" fill="url(#gr)"/>
<circle cx="251.90" cy="288.50" r="1.5" fill="url(#gr)"/>
<circle cx="251.90" cy="294.80" r="1.5" fill="url(#gr)"/>
<circle cx="251.90" cy="297.30" r="1.5" fill="url(#gr)"/>
<circle cx="251.90" cy="303.10" r="1.5" fill="url(#gr)"/>
<circle cx="251.90" cy="308.70" r="1.5" fill="url(#gr)"/>
<circle cx="251.90" cy="315.40" r="1.5" fill="url(#gr)"/>
<circle cx="253.30" cy="316.90" r="1.5" fill="url(#gr)"/>
<circle cx="251.90" cy="324.20" r="1.5" fill="url(#gr)"/>
<line x1="243.20" y1="301.2" x2="249.40" y2="301.2" stroke="#15204a" stroke-width="1.3"/>
<line x1="248.80" y1="303.1" x2="255.00" y2="303.1" stroke="#111" stroke-width="1.3"/>
<circle cx="310.80" cy="313.50" r="1.5" fill="url(#gb)"/>
<circle cx="310.80" cy="316.50" r="1.5" fill="url(#gb)"/>
<circle cx="310.80" cy="323.10" r="1.5" fill="url(#gb)"/>
<circle cx="316.50" cy="293.30" r="1.5" fill="url(#gr)"/>
<circle cx="316.50" cy="299.60" r="1.5" fill="url(#gr)"/>
<circle cx="317.90" cy="301.20" r="1.5" fill="url(#gr)"/>
<circle cx="316.50" cy="302.50" r="1.5" fill="url(#gr)"/>
<circle cx="316.50" cy="304.40" r="1.5" fill="url(#gr)"/>
<circle cx="317.90" cy="305.50" r="1.5" fill="url(#gr)"/>
<circle cx="315.10" cy="306.30" r="1.5" fill="url(#gr)"/>
<circle cx="316.50" cy="309.20" r="1.5" fill="url(#gr)"/>
<circle cx="316.50" cy="312.70" r="1.5" fill="url(#gr)"/>
<line x1="307.70" y1="316.5" x2="313.90" y2="316.5" stroke="#15204a" stroke-width="1.3"/>
<line x1="313.40" y1="304.4" x2="319.60" y2="304.4" stroke="#111" stroke-width="1.3"/>
<circle cx="325.80" cy="308.30" r="1.5" fill="url(#gb)"/>
<circle cx="325.80" cy="314.00" r="1.5" fill="url(#gb)"/>
<circle cx="325.80" cy="318.80" r="1.5" fill="url(#gb)"/>
<circle cx="331.80" cy="280.20" r="1.5" fill="url(#gr)"/>
<circle cx="331.80" cy="287.50" r="1.5" fill="url(#gr)"/>
<circle cx="331.80" cy="289.40" r="1.5" fill="url(#gr)"/>
<circle cx="331.80" cy="293.30" r="1.5" fill="url(#gr)"/>
<circle cx="331.80" cy="301.50" r="1.5" fill="url(#gr)"/>
<circle cx="331.80" cy="305.40" r="1.5" fill="url(#gr)"/>
<circle cx="331.80" cy="311.20" r="1.5" fill="url(#gr)"/>
<circle cx="331.80" cy="313.10" r="1.5" fill="url(#gr)"/>
<line x1="322.70" y1="314.0" x2="328.90" y2="314.0" stroke="#15204a" stroke-width="1.3"/>
<line x1="328.70" y1="301.5" x2="334.90" y2="301.5" stroke="#111" stroke-width="1.3"/>
<circle cx="341.00" cy="303.80" r="1.5" fill="url(#gb)"/>
<circle cx="341.00" cy="310.80" r="1.5" fill="url(#gb)"/>
<circle cx="341.00" cy="314.00" r="1.5" fill="url(#gb)"/>
<circle cx="347.20" cy="288.50" r="1.5" fill="url(#gr)"/>
<circle cx="347.20" cy="290.40" r="1.5" fill="url(#gr)"/>
<circle cx="347.20" cy="294.20" r="1.5" fill="url(#gr)"/>
<circle cx="347.20" cy="301.50" r="1.5" fill="url(#gr)"/>
<circle cx="347.20" cy="303.80" r="1.5" fill="url(#gr)"/>
<circle cx="348.60" cy="305.40" r="1.5" fill="url(#gr)"/>
<circle cx="347.20" cy="308.30" r="1.5" fill="url(#gr)"/>
<circle cx="347.20" cy="312.10" r="1.5" fill="url(#gr)"/>
<line x1="337.90" y1="310.8" x2="344.10" y2="310.8" stroke="#15204a" stroke-width="1.3"/>
<line x1="344.10" y1="301.5" x2="350.30" y2="301.5" stroke="#111" stroke-width="1.3"/>
<circle cx="356.40" cy="305.00" r="1.5" fill="url(#gb)"/>
<circle cx="356.40" cy="309.80" r="1.5" fill="url(#gb)"/>
<circle cx="356.40" cy="316.90" r="1.5" fill="url(#gb)"/>
<circle cx="362.20" cy="278.50" r="1.5" fill="url(#gr)"/>
<circle cx="362.20" cy="285.00" r="1.5" fill="url(#gr)"/>
<circle cx="362.20" cy="289.40" r="1.5" fill="url(#gr)"/>
<circle cx="362.20" cy="291.30" r="1.5" fill="url(#gr)"/>
<circle cx="364.80" cy="291.90" r="1.5" fill="url(#gr)"/>
<circle cx="362.20" cy="298.70" r="1.5" fill="url(#gr)"/>
<circle cx="362.20" cy="304.40" r="1.5" fill="url(#gr)"/>
<circle cx="362.20" cy="306.90" r="1.5" fill="url(#gr)"/>
<line x1="353.30" y1="309.8" x2="359.50" y2="309.8" stroke="#15204a" stroke-width="1.3"/>
<line x1="359.10" y1="291.3" x2="365.30" y2="291.3" stroke="#111" stroke-width="1.3"/>
<circle cx="371.70" cy="315.00" r="1.5" fill="url(#gb)"/>
<circle cx="374.30" cy="316.00" r="1.5" fill="url(#gb)"/>
<circle cx="371.70" cy="319.20" r="1.5" fill="url(#gb)"/>
<circle cx="377.60" cy="262.10" r="1.5" fill="url(#gr)"/>
<circle cx="377.60" cy="274.40" r="1.5" fill="url(#gr)"/>
<circle cx="377.60" cy="283.10" r="1.5" fill="url(#gr)"/>
<circle cx="377.60" cy="287.90" r="1.5" fill="url(#gr)"/>
<circle cx="377.60" cy="299.40" r="1.5" fill="url(#gr)"/>
<circle cx="377.60" cy="303.10" r="1.5" fill="url(#gr)"/>
<circle cx="377.60" cy="305.40" r="1.5" fill="url(#gr)"/>
<circle cx="377.60" cy="307.70" r="1.5" fill="url(#gr)"/>
<line x1="368.60" y1="316.0" x2="374.80" y2="316.0" stroke="#15204a" stroke-width="1.3"/>
<line x1="374.50" y1="287.9" x2="380.70" y2="287.9" stroke="#111" stroke-width="1.3"/>
<circle cx="387.00" cy="294.20" r="1.5" fill="url(#gb)"/>
<circle cx="387.00" cy="309.60" r="1.5" fill="url(#gb)"/>
<circle cx="387.00" cy="316.00" r="1.5" fill="url(#gb)"/>
<circle cx="393.00" cy="293.30" r="1.5" fill="url(#gr)"/>
<circle cx="393.00" cy="297.70" r="1.5" fill="url(#gr)"/>
<circle cx="393.00" cy="303.50" r="1.5" fill="url(#gr)"/>
<circle cx="393.00" cy="308.80" r="1.5" fill="url(#gr)"/>
<circle cx="393.00" cy="314.60" r="1.5" fill="url(#gr)"/>
<circle cx="393.00" cy="316.90" r="1.5" fill="url(#gr)"/>
<circle cx="395.60" cy="316.90" r="1.5" fill="url(#gr)"/>
<line x1="383.90" y1="309.6" x2="390.10" y2="309.6" stroke="#15204a" stroke-width="1.3"/>
<line x1="389.90" y1="308.8" x2="396.10" y2="308.8" stroke="#111" stroke-width="1.3"/>
<polygon points="316.50,244.80 317.18,246.67 319.16,246.73 317.59,247.96 318.15,249.87 316.50,248.75 314.85,249.87 315.41,247.96 313.84,246.73 315.82,246.67" fill="#111"/>
<polygon points="362.20,244.80 362.88,246.67 364.86,246.73 363.29,247.96 363.85,249.87 362.20,248.75 360.55,249.87 361.11,247.96 359.54,246.73 361.52,246.67" fill="#111"/>
<polygon points="377.60,244.80 378.28,246.67 380.26,246.73 378.69,247.96 379.25,249.87 377.60,248.75 375.95,249.87 376.51,247.96 374.94,246.73 376.92,246.67" fill="#111"/>
<circle cx="429.00" cy="308.80" r="1.5" fill="url(#gb)"/>
<circle cx="429.00" cy="313.00" r="1.5" fill="url(#gb)"/>
<circle cx="429.00" cy="323.20" r="1.5" fill="url(#gb)"/>
<circle cx="435.00" cy="295.00" r="1.5" fill="url(#gr)"/>
<circle cx="435.00" cy="297.60" r="1.5" fill="url(#gr)"/>
<circle cx="435.00" cy="302.50" r="1.5" fill="url(#gr)"/>
<circle cx="437.60" cy="303.50" r="1.5" fill="url(#gr)"/>
<circle cx="433.60" cy="304.00" r="1.5" fill="url(#gr)"/>
<circle cx="435.00" cy="306.80" r="1.5" fill="url(#gr)"/>
<circle cx="435.00" cy="312.60" r="1.5" fill="url(#gr)"/>
<line x1="425.90" y1="313.0" x2="432.10" y2="313.0" stroke="#15204a" stroke-width="1.3"/>
<line x1="431.90" y1="303.0" x2="438.10" y2="303.0" stroke="#111" stroke-width="1.3"/>
<circle cx="444.70" cy="308.80" r="1.5" fill="url(#gb)"/>
<circle cx="444.70" cy="314.50" r="1.5" fill="url(#gb)"/>
<circle cx="447.30" cy="314.90" r="1.5" fill="url(#gb)"/>
<circle cx="450.20" cy="273.80" r="1.5" fill="url(#gr)"/>
<circle cx="450.20" cy="280.00" r="1.5" fill="url(#gr)"/>
<circle cx="450.20" cy="288.80" r="1.5" fill="url(#gr)"/>
<circle cx="450.20" cy="294.60" r="1.5" fill="url(#gr)"/>
<circle cx="451.60" cy="296.10" r="1.5" fill="url(#gr)"/>
<circle cx="450.20" cy="304.30" r="1.5" fill="url(#gr)"/>
<circle cx="450.20" cy="308.80" r="1.5" fill="url(#gr)"/>
<circle cx="450.20" cy="310.70" r="1.5" fill="url(#gr)"/>
<line x1="441.60" y1="314.5" x2="447.80" y2="314.5" stroke="#15204a" stroke-width="1.3"/>
<line x1="447.10" y1="296.1" x2="453.30" y2="296.1" stroke="#111" stroke-width="1.3"/>
<circle cx="459.80" cy="308.20" r="1.5" fill="url(#gb)"/>
<circle cx="462.40" cy="309.20" r="1.5" fill="url(#gb)"/>
<circle cx="459.80" cy="310.70" r="1.5" fill="url(#gb)"/>
<circle cx="465.60" cy="279.60" r="1.5" fill="url(#gr)"/>
<circle cx="465.60" cy="281.90" r="1.5" fill="url(#gr)"/>
<circle cx="465.60" cy="289.20" r="1.5" fill="url(#gr)"/>
<circle cx="465.60" cy="292.70" r="1.5" fill="url(#gr)"/>
<circle cx="465.60" cy="304.30" r="1.5" fill="url(#gr)"/>
<circle cx="465.60" cy="306.30" r="1.5" fill="url(#gr)"/>
<circle cx="465.60" cy="308.20" r="1.5" fill="url(#gr)"/>
<line x1="456.70" y1="309.2" x2="462.90" y2="309.2" stroke="#15204a" stroke-width="1.3"/>
<line x1="462.50" y1="292.7" x2="468.70" y2="292.7" stroke="#111" stroke-width="1.3"/>
<circle cx="475.20" cy="296.10" r="1.5" fill="url(#gb)"/>
<circle cx="475.20" cy="307.20" r="1.5" fill="url(#gb)"/>
<circle cx="475.20" cy="313.00" r="1.5" fill="url(#gb)"/>
<circle cx="480.90" cy="271.00" r="1.5" fill="url(#gr)"/>
<circle cx="480.90" cy="272.90" r="1.5" fill="url(#gr)"/>
<circle cx="480.90" cy="278.70" r="1.5" fill="url(#gr)"/>
<circle cx="480.90" cy="283.50" r="1.5" fill="url(#gr)"/>
<circle cx="480.90" cy="285.80" r="1.5" fill="url(#gr)"/>
<circle cx="480.90" cy="290.00" r="1.5" fill="url(#gr)"/>
<circle cx="480.90" cy="294.50" r="1.5" fill="url(#gr)"/>
<circle cx="480.90" cy="299.50" r="1.5" fill="url(#gr)"/>
<line x1="472.10" y1="307.2" x2="478.30" y2="307.2" stroke="#15204a" stroke-width="1.3"/>
<line x1="477.80" y1="285.8" x2="484.00" y2="285.8" stroke="#111" stroke-width="1.3"/>
<circle cx="490.30" cy="308.80" r="1.5" fill="url(#gb)"/>
<circle cx="490.30" cy="312.60" r="1.5" fill="url(#gb)"/>
<circle cx="490.30" cy="318.40" r="1.5" fill="url(#gb)"/>
<circle cx="496.00" cy="257.50" r="1.5" fill="url(#gr)"/>
<circle cx="496.00" cy="270.40" r="1.5" fill="url(#gr)"/>
<circle cx="496.00" cy="279.60" r="1.5" fill="url(#gr)"/>
<circle cx="496.00" cy="285.00" r="1.5" fill="url(#gr)"/>
<circle cx="496.00" cy="290.00" r="1.5" fill="url(#gr)"/>
<circle cx="496.00" cy="294.00" r="1.5" fill="url(#gr)"/>
<circle cx="497.40" cy="295.70" r="1.5" fill="url(#gr)"/>
<circle cx="494.60" cy="296.70" r="1.5" fill="url(#gr)"/>
<circle cx="496.00" cy="299.90" r="1.5" fill="url(#gr)"/>
<line x1="487.20" y1="312.6" x2="493.40" y2="312.6" stroke="#15204a" stroke-width="1.3"/>
<line x1="492.90" y1="285.0" x2="499.10" y2="285.0" stroke="#111" stroke-width="1.3"/>
<circle cx="505.00" cy="318.10" r="1.5" fill="url(#gb)"/>
<circle cx="507.60" cy="318.90" r="1.5" fill="url(#gb)"/>
<circle cx="511.30" cy="308.20" r="1.5" fill="url(#gr)"/>
<circle cx="512.70" cy="309.50" r="1.5" fill="url(#gr)"/>
<circle cx="511.30" cy="311.50" r="1.5" fill="url(#gr)"/>
<circle cx="512.70" cy="313.00" r="1.5" fill="url(#gr)"/>
<circle cx="511.30" cy="316.80" r="1.5" fill="url(#gr)"/>
<circle cx="512.70" cy="318.40" r="1.5" fill="url(#gr)"/>
<circle cx="511.30" cy="320.30" r="1.5" fill="url(#gr)"/>
<circle cx="511.30" cy="322.20" r="1.5" fill="url(#gr)"/>
<line x1="501.90" y1="318.4" x2="508.10" y2="318.4" stroke="#15204a" stroke-width="1.3"/>
<line x1="508.20" y1="313.0" x2="514.40" y2="313.0" stroke="#111" stroke-width="1.3"/>
<polygon points="480.90,244.80 481.58,246.67 483.56,246.73 481.99,247.96 482.55,249.87 480.90,248.75 479.25,249.87 479.81,247.96 478.24,246.73 480.22,246.67" fill="#111"/>
<polygon points="496.00,244.80 496.68,246.67 498.66,246.73 497.09,247.96 497.65,249.87 496.00,248.75 494.35,249.87 494.91,247.96 493.34,246.73 495.32,246.67" fill="#111"/>
<circle cx="122.1" cy="57.5" r="1.35" fill="#1a2a55"/>
<text x="125.2" y="59.6" font-size="5.6" fill="#6470a8">(22.2)</text>
<line x1="119.25" y1="63.95" x2="124.65" y2="60.45" stroke="#3a3a3a" stroke-width="0.95"/>
<line x1="119.95" y1="65.15" x2="125.35" y2="61.65" stroke="#3a3a3a" stroke-width="0.95"/>
</svg></body></html>
